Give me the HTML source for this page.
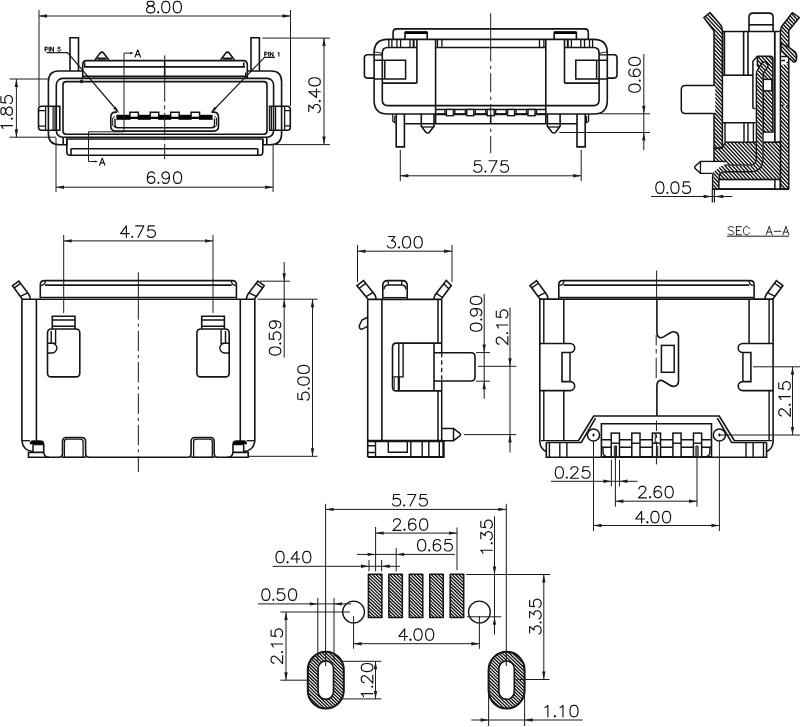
<!DOCTYPE html>
<html><head><meta charset="utf-8"><title>Drawing</title>
<style>html,body{margin:0;padding:0;background:#fff;font-family:"Liberation Sans",sans-serif;}svg{display:block;}</style>
</head><body>
<svg width="800" height="727" viewBox="0 0 800 727">
<defs>
<path id="hl3" d="M514.13 5.00 L691.31 195.00 M517.82 5.00 L695.00 195.00 M521.51 5.00 L698.69 195.00 M525.21 5.00 L702.38 195.00 M528.90 5.00 L706.08 195.00 M532.59 5.00 L709.77 195.00 M536.28 5.00 L713.46 195.00 M539.97 5.00 L717.15 195.00 M543.66 5.00 L720.84 195.00 M547.36 5.00 L724.53 195.00 M551.05 5.00 L728.23 195.00 M554.74 5.00 L731.92 195.00 M558.43 5.00 L735.61 195.00 M562.12 5.00 L739.30 195.00 M565.82 5.00 L742.99 195.00 M569.51 5.00 L746.68 195.00 M573.20 5.00 L750.38 195.00 M576.89 5.00 L754.07 195.00 M580.58 5.00 L757.76 195.00 M584.27 5.00 L761.45 195.00 M587.97 5.00 L765.14 195.00 M591.66 5.00 L768.84 195.00 M595.35 5.00 L772.53 195.00 M599.04 5.00 L776.22 195.00 M602.73 5.00 L779.91 195.00 M606.42 5.00 L783.60 195.00 M610.12 5.00 L787.29 195.00 M613.81 5.00 L790.99 195.00 M617.50 5.00 L794.68 195.00 M621.19 5.00 L798.37 195.00 M624.88 5.00 L802.06 195.00 M628.58 5.00 L805.75 195.00 M632.27 5.00 L809.45 195.00 M635.96 5.00 L813.14 195.00 M639.65 5.00 L816.83 195.00 M643.34 5.00 L820.52 195.00 M647.03 5.00 L824.21 195.00 M650.73 5.00 L827.90 195.00 M654.42 5.00 L831.60 195.00 M658.11 5.00 L835.29 195.00 M661.80 5.00 L838.98 195.00 M665.49 5.00 L842.67 195.00 M669.19 5.00 L846.36 195.00 M672.88 5.00 L850.05 195.00 M676.57 5.00 L853.75 195.00 M680.26 5.00 L857.44 195.00 M683.95 5.00 L861.13 195.00 M687.64 5.00 L864.82 195.00 M691.34 5.00 L868.51 195.00 M695.03 5.00 L872.21 195.00 M698.72 5.00 L875.90 195.00 M702.41 5.00 L879.59 195.00 M706.10 5.00 L883.28 195.00 M709.79 5.00 L886.97 195.00 M713.49 5.00 L890.66 195.00 M717.18 5.00 L894.36 195.00 M720.87 5.00 L898.05 195.00 M724.56 5.00 L901.74 195.00 M728.25 5.00 L905.43 195.00 M731.95 5.00 L909.12 195.00 M735.64 5.00 L912.82 195.00 M739.33 5.00 L916.51 195.00 M743.02 5.00 L920.20 195.00 M746.71 5.00 L923.89 195.00 M750.40 5.00 L927.58 195.00 M754.10 5.00 L931.27 195.00 M757.79 5.00 L934.97 195.00 M761.48 5.00 L938.66 195.00 M765.17 5.00 L942.35 195.00 M768.86 5.00 L946.04 195.00 M772.56 5.00 L949.73 195.00 M776.25 5.00 L953.42 195.00 M779.94 5.00 L957.12 195.00 M783.63 5.00 L960.81 195.00 M787.32 5.00 L964.50 195.00 M791.01 5.00 L968.19 195.00 M794.71 5.00 L971.88 195.00 M798.40 5.00 L975.58 195.00 M802.09 5.00 L979.27 195.00" fill="none" stroke="#141414" stroke-width="1.4"/>
<path id="hl3b" d="M515.93 5.00 L693.11 195.00 M519.62 5.00 L696.80 195.00 M523.31 5.00 L700.49 195.00 M527.01 5.00 L704.18 195.00 M530.70 5.00 L707.88 195.00 M534.39 5.00 L711.57 195.00 M538.08 5.00 L715.26 195.00 M541.77 5.00 L718.95 195.00 M545.46 5.00 L722.64 195.00 M549.16 5.00 L726.33 195.00 M552.85 5.00 L730.03 195.00 M556.54 5.00 L733.72 195.00 M560.23 5.00 L737.41 195.00 M563.92 5.00 L741.10 195.00 M567.62 5.00 L744.79 195.00 M571.31 5.00 L748.48 195.00 M575.00 5.00 L752.18 195.00 M578.69 5.00 L755.87 195.00 M582.38 5.00 L759.56 195.00 M586.07 5.00 L763.25 195.00 M589.77 5.00 L766.94 195.00 M593.46 5.00 L770.64 195.00 M597.15 5.00 L774.33 195.00 M600.84 5.00 L778.02 195.00 M604.53 5.00 L781.71 195.00 M608.22 5.00 L785.40 195.00 M611.92 5.00 L789.09 195.00 M615.61 5.00 L792.79 195.00 M619.30 5.00 L796.48 195.00 M622.99 5.00 L800.17 195.00 M626.68 5.00 L803.86 195.00 M630.38 5.00 L807.55 195.00 M634.07 5.00 L811.25 195.00 M637.76 5.00 L814.94 195.00 M641.45 5.00 L818.63 195.00 M645.14 5.00 L822.32 195.00 M648.83 5.00 L826.01 195.00 M652.53 5.00 L829.70 195.00 M656.22 5.00 L833.40 195.00 M659.91 5.00 L837.09 195.00 M663.60 5.00 L840.78 195.00 M667.29 5.00 L844.47 195.00 M670.99 5.00 L848.16 195.00 M674.68 5.00 L851.85 195.00 M678.37 5.00 L855.55 195.00 M682.06 5.00 L859.24 195.00 M685.75 5.00 L862.93 195.00 M689.44 5.00 L866.62 195.00 M693.14 5.00 L870.31 195.00 M696.83 5.00 L874.01 195.00 M700.52 5.00 L877.70 195.00 M704.21 5.00 L881.39 195.00 M707.90 5.00 L885.08 195.00 M711.59 5.00 L888.77 195.00 M715.29 5.00 L892.46 195.00 M718.98 5.00 L896.16 195.00 M722.67 5.00 L899.85 195.00 M726.36 5.00 L903.54 195.00 M730.05 5.00 L907.23 195.00 M733.75 5.00 L910.92 195.00 M737.44 5.00 L914.62 195.00 M741.13 5.00 L918.31 195.00 M744.82 5.00 L922.00 195.00 M748.51 5.00 L925.69 195.00 M752.20 5.00 L929.38 195.00 M755.90 5.00 L933.07 195.00 M759.59 5.00 L936.77 195.00 M763.28 5.00 L940.46 195.00 M766.97 5.00 L944.15 195.00 M770.66 5.00 L947.84 195.00 M774.36 5.00 L951.53 195.00 M778.05 5.00 L955.22 195.00 M781.74 5.00 L958.92 195.00 M785.43 5.00 L962.61 195.00 M789.12 5.00 L966.30 195.00 M792.81 5.00 L969.99 195.00 M796.51 5.00 L973.68 195.00 M800.20 5.00 L977.38 195.00" fill="none" stroke="#141414" stroke-width="1.4"/>
<clipPath id="c1"><path d="M703.8 17.5 L710 12.5 L720.8 25.2 Q722.4 27.5 722.4 30.5 L722.4 148.3 L714 148.3 L714 31 Z"/></clipPath>
<clipPath id="c2"><path d="M799.4 17.5 L792.3 12.7 L782 26 Q780.4 28.5 780.4 31 L780.4 189.1 L788.8 189.1 L788.8 30.5 Z"/></clipPath>
<clipPath id="c3"><path d="M781 43.5 L788.6 47.2 L794.4 51.3 Q797 53.4 796.7 57.6 L796.3 60 Q795.5 63 793.2 61.6 L781 50.8 Z"/></clipPath>
<clipPath id="c4"><path d="M757.4 56.3 L770.3 56.3 Q772.9 56.3 772.9 59 L772.9 132.2 L763 132.2 L763 70 L757.4 66 Z"/></clipPath>
<clipPath id="c5"><path d="M714 148.3 L721.8 148.3 L725.6 142.2 L780.4 142.2 L780.4 179.6 L716 179.6 L714 173 Z"/></clipPath>
<mask id="m6" maskUnits="userSpaceOnUse" x="680" y="0" width="120" height="200"><path d="M764.6 65.2 L760.4 71.5 Q759.7 72.5 759.7 74 L759.7 158.4 Q759.7 168.4 749.7 168.4 L724.5 168.4 Q715.9 168.4 715.9 177 L715.9 189" fill="none" stroke="#fff" stroke-width="5.20" stroke-linejoin="round"/><circle cx="764.60" cy="65.20" r="2.60" fill="#fff"/></mask>
<path id="hl7" d="M150.10 570.00 L297.15 712.00 M153.55 570.00 L300.60 712.00 M157.01 570.00 L304.05 712.00 M160.46 570.00 L307.51 712.00 M163.92 570.00 L310.96 712.00 M167.37 570.00 L314.42 712.00 M170.83 570.00 L317.87 712.00 M174.28 570.00 L321.33 712.00 M177.74 570.00 L324.78 712.00 M181.19 570.00 L328.24 712.00 M184.65 570.00 L331.69 712.00 M188.10 570.00 L335.15 712.00 M191.56 570.00 L338.60 712.00 M195.01 570.00 L342.06 712.00 M198.47 570.00 L345.51 712.00 M201.92 570.00 L348.97 712.00 M205.38 570.00 L352.42 712.00 M208.83 570.00 L355.88 712.00 M212.29 570.00 L359.33 712.00 M215.74 570.00 L362.79 712.00 M219.20 570.00 L366.24 712.00 M222.65 570.00 L369.70 712.00 M226.11 570.00 L373.15 712.00 M229.56 570.00 L376.61 712.00 M233.02 570.00 L380.06 712.00 M236.47 570.00 L383.52 712.00 M239.93 570.00 L386.97 712.00 M243.38 570.00 L390.43 712.00 M246.84 570.00 L393.88 712.00 M250.29 570.00 L397.34 712.00 M253.75 570.00 L400.79 712.00 M257.20 570.00 L404.25 712.00 M260.66 570.00 L407.70 712.00 M264.11 570.00 L411.16 712.00 M267.57 570.00 L414.61 712.00 M271.02 570.00 L418.07 712.00 M274.48 570.00 L421.52 712.00 M277.93 570.00 L424.98 712.00 M281.39 570.00 L428.43 712.00 M284.84 570.00 L431.89 712.00 M288.30 570.00 L435.34 712.00 M291.75 570.00 L438.80 712.00 M295.21 570.00 L442.25 712.00 M298.66 570.00 L445.71 712.00 M302.12 570.00 L449.16 712.00 M305.57 570.00 L452.62 712.00 M309.03 570.00 L456.07 712.00 M312.48 570.00 L459.53 712.00 M315.94 570.00 L462.98 712.00 M319.39 570.00 L466.44 712.00 M322.85 570.00 L469.89 712.00 M326.30 570.00 L473.35 712.00 M329.76 570.00 L476.80 712.00 M333.21 570.00 L480.26 712.00 M336.67 570.00 L483.71 712.00 M340.12 570.00 L487.17 712.00 M343.58 570.00 L490.62 712.00 M347.03 570.00 L494.08 712.00 M350.49 570.00 L497.53 712.00 M353.94 570.00 L500.99 712.00 M357.40 570.00 L504.44 712.00 M360.85 570.00 L507.90 712.00 M364.31 570.00 L511.35 712.00 M367.76 570.00 L514.81 712.00 M371.22 570.00 L518.26 712.00 M374.67 570.00 L521.72 712.00 M378.13 570.00 L525.17 712.00 M381.58 570.00 L528.63 712.00 M385.04 570.00 L532.08 712.00 M388.49 570.00 L535.54 712.00 M391.95 570.00 L538.99 712.00 M395.40 570.00 L542.45 712.00 M398.86 570.00 L545.90 712.00 M402.31 570.00 L549.36 712.00 M405.77 570.00 L552.81 712.00 M409.22 570.00 L556.27 712.00 M412.67 570.00 L559.72 712.00 M416.13 570.00 L563.18 712.00 M419.58 570.00 L566.63 712.00 M423.04 570.00 L570.08 712.00 M426.49 570.00 L573.54 712.00 M429.95 570.00 L576.99 712.00 M433.40 570.00 L580.45 712.00 M436.86 570.00 L583.90 712.00 M440.31 570.00 L587.36 712.00 M443.77 570.00 L590.81 712.00 M447.22 570.00 L594.27 712.00 M450.68 570.00 L597.72 712.00 M454.13 570.00 L601.18 712.00 M457.59 570.00 L604.63 712.00 M461.04 570.00 L608.09 712.00 M464.50 570.00 L611.54 712.00 M467.95 570.00 L615.00 712.00 M471.41 570.00 L618.45 712.00 M474.86 570.00 L621.91 712.00 M478.32 570.00 L625.36 712.00 M481.77 570.00 L628.82 712.00 M485.23 570.00 L632.27 712.00 M488.68 570.00 L635.73 712.00 M492.14 570.00 L639.18 712.00 M495.59 570.00 L642.64 712.00 M499.05 570.00 L646.09 712.00 M502.50 570.00 L649.55 712.00 M505.96 570.00 L653.00 712.00 M509.41 570.00 L656.46 712.00 M512.87 570.00 L659.91 712.00 M516.32 570.00 L663.37 712.00 M519.78 570.00 L666.82 712.00 M523.23 570.00 L670.28 712.00 M526.69 570.00 L673.73 712.00 M530.14 570.00 L677.19 712.00" fill="none" stroke="#141414" stroke-width="1.35"/>
<clipPath id="c7"><path d="M368.40 574.3 L381.90 574.3 L381.90 617.5 L368.40 617.5 Z"/></clipPath>
<clipPath id="c8"><path d="M388.85 574.3 L402.35 574.3 L402.35 617.5 L388.85 617.5 Z"/></clipPath>
<clipPath id="c9"><path d="M409.30 574.3 L422.80 574.3 L422.80 617.5 L409.30 617.5 Z"/></clipPath>
<clipPath id="c10"><path d="M429.75 574.3 L443.25 574.3 L443.25 617.5 L429.75 617.5 Z"/></clipPath>
<clipPath id="c11"><path d="M450.20 574.3 L463.70 574.3 L463.70 617.5 L450.20 617.5 Z"/></clipPath>
<clipPath id="c12"><path d="M307.80 669.8 A18 18 0 0 1 343.80 669.8 L343.80 690.5 A18 18 0 0 1 307.80 690.5 Z M318.10 668.7 A7.7 7.7 0 0 1 333.50 668.7 L333.50 691.7 A7.7 7.7 0 0 1 318.10 691.7 Z" clip-rule="evenodd"/></clipPath>
<clipPath id="c13"><path d="M488.60 669.8 A18 18 0 0 1 524.60 669.8 L524.60 690.5 A18 18 0 0 1 488.60 690.5 Z M498.90 668.7 A7.7 7.7 0 0 1 514.30 668.7 L514.30 691.7 A7.7 7.7 0 0 1 498.90 691.7 Z" clip-rule="evenodd"/></clipPath>
</defs>
<rect x="0" y="0" width="800" height="727" fill="#fff"/>
<path d="M70 71 L70 37.8 L78.5 37.8 L78.5 71" fill="none" stroke="#141414" stroke-width="1.60" />
<path d="M251 71 L251 37.8 L259.4 37.8 L259.4 71" fill="none" stroke="#141414" stroke-width="1.60" />
<path d="M82.7 71 L59 71 Q48.4 71 48.4 81.6 L48.4 133.8 Q48.4 144.8 59.4 144.8 L66.8 144.8 L66.8 139" fill="none" stroke="#141414" stroke-width="1.60" />
<path d="M247.3 71 L271 71 Q281.6 71 281.6 81.6 L281.6 133.8 Q281.6 144.8 270.6 144.8 L262.8 144.8 L262.8 139" fill="none" stroke="#141414" stroke-width="1.60" />
<rect x="56.30" y="78.40" width="217.30" height="58.90" rx="6.50" ry="6.50" fill="none" stroke="#141414" stroke-width="1.60"/>
<rect x="63.00" y="81.60" width="204.00" height="52.70" rx="3.20" ry="3.20" fill="none" stroke="#141414" stroke-width="1.60"/>
<path d="M63.20 137.30 L63.20 144.80" fill="none" stroke="#141414" stroke-width="1.60" />
<path d="M266.80 137.30 L266.80 144.80" fill="none" stroke="#141414" stroke-width="1.60" />
<circle cx="81.6" cy="81.3" r="1.3" fill="none" stroke="#141414" stroke-width="1.2"/>
<path d="M82.7 78.4 L82.7 64.6 Q82.7 60.6 86.7 60.6 L243.3 60.6 Q247.3 60.6 247.3 64.6 L247.3 78.4" fill="none" stroke="#141414" stroke-width="1.60" />
<path d="M84.6 62.5 L84.6 66.9 L245 66.9 M243.7 62.5 L243.7 66.9" fill="none" stroke="#141414" stroke-width="1.60" />
<path d="M82.70 76.40 L247.30 76.40" fill="none" stroke="#141414" stroke-width="1.60" />
<path d="M245.60 72.50 L245.60 78.40" fill="none" stroke="#141414" stroke-width="1.20" />
<path d="M95.0 60 L100.0 53.3 Q101.9 51 103.8 53.3 L108.8 60" fill="none" stroke="#141414" stroke-width="1.60" />
<path d="M97.30 58.60 L106.50 58.60" fill="none" stroke="#141414" stroke-width="2.20" />
<path d="M220.6 60 L225.6 53.3 Q227.5 51 229.4 53.3 L234.4 60" fill="none" stroke="#141414" stroke-width="1.60" />
<path d="M222.90 58.60 L232.10 58.60" fill="none" stroke="#141414" stroke-width="2.20" />
<path d="M59.8 106.2 L41.5 106.2 Q38.5 106.2 38.5 109.2 L38.5 127.3 Q38.5 130.3 41.5 130.3 L59.8 130.3 Z" fill="none" stroke="#141414" stroke-width="1.60" />
<path d="M38.5 110.6 L45.6 110.6 M38.5 126.2 L45.6 126.2 M45.6 106.2 L45.6 130.3" fill="none" stroke="#141414" stroke-width="1.30" />
<path d="M53.1 106.2 L53.1 130.3 M55 106.2 L55 130.3" fill="none" stroke="#141414" stroke-width="1.20" />
<path d="M269.6 106.2 L287.3 106.2 Q290.3 106.2 290.3 109.2 L290.3 127.3 Q290.3 130.3 287.3 130.3 L269.6 130.3 Z" fill="none" stroke="#141414" stroke-width="1.60" />
<path d="M290.3 110.6 L284.6 110.6 M290.3 125.8 L284.6 125.8 M284.6 106.2 L284.6 130.3" fill="none" stroke="#141414" stroke-width="1.30" />
<path d="M271.5 106.2 L271.5 130.3 M275.6 106.2 L275.6 130.3" fill="none" stroke="#141414" stroke-width="1.20" />
<path d="M66.8 139 L262.8 139 L262.8 152 Q262.8 155.3 259.5 155.3 L70.1 155.3 Q66.8 155.3 66.8 152 Z" fill="none" stroke="#141414" stroke-width="1.60" />
<path d="M71 148.8 L257.8 148.8 M71 148.8 L71 155.3 M257.8 148.8 L257.8 155.3" fill="none" stroke="#141414" stroke-width="1.60" />
<path d="M117 112.1 L115.8 112.1 Q110.8 112.1 110.8 117.1 L110.8 126.1 Q110.8 131.1 115.8 131.1 L213.5 131.1 Q218.5 131.1 218.5 126.1 L218.5 117.1 Q218.5 112.1 213.5 112.1 L212 112.1" fill="none" stroke="#141414" stroke-width="1.60" />
<path d="M115 118.5 L115 124.8 Q115 127.8 118 127.8 L211.5 127.8 Q214.5 127.8 214.5 124.8 L214.5 118.5" fill="none" stroke="#141414" stroke-width="1.40" />
<path d="M112.7 118 L112.7 125.5 M216.6 118 L216.6 125.5 M112.7 125.5 L116 128 M216.6 125.5 L213.5 128 M112.7 118 L115 116 M216.6 118 L214.5 116" fill="none" stroke="#141414" stroke-width="1.00" />
<rect x="117" y="116.7" width="95" height="2.3" fill="#000"/>
<rect x="116.40" y="114.8" width="14.05" height="5.0" fill="#000"/>
<rect x="137.75" y="114.8" width="13.10" height="5.0" fill="#000"/>
<rect x="158.15" y="114.8" width="13.10" height="5.0" fill="#000"/>
<rect x="178.55" y="114.8" width="13.10" height="5.0" fill="#000"/>
<rect x="198.95" y="114.8" width="13.65" height="5.0" fill="#000"/>
<path d="M129.85 115.5 L129.85 112.3 L138.35 112.3 L138.35 115.5" fill="none" stroke="#141414" stroke-width="1.50" />
<path d="M150.25 115.5 L150.25 112.3 L158.75 112.3 L158.75 115.5" fill="none" stroke="#141414" stroke-width="1.50" />
<path d="M170.65 115.5 L170.65 112.3 L179.15 112.3 L179.15 115.5" fill="none" stroke="#141414" stroke-width="1.50" />
<path d="M191.05 115.5 L191.05 112.3 L199.55 112.3 L199.55 115.5" fill="none" stroke="#141414" stroke-width="1.50" />
<path d="M164.70 60.60 L164.70 78.40" fill="none" stroke="#141414" stroke-width="1.60" />
<path d="M164.7 55.3 L164.7 60.6 M164.7 78.5 L164.7 101.7 M164.7 105.2 L164.7 109.5 M164.7 112.9 L164.7 134.4 M164.7 137.8 L164.7 140.4 M164.7 143.8 L164.7 159.3" fill="none" stroke="#1c1c1c" stroke-width="1.00" />
<path transform="translate(45.20 51.40) rotate(0.0)" d="M0.00 -4.20 L0.00 -0.20 M0.00 -4.20 L1.71 -4.20 L2.29 -4.01 L2.48 -3.82 L2.67 -3.44 L2.67 -2.87 L2.48 -2.49 L2.29 -2.30 L1.71 -2.10 L0.00 -2.10 M4.00 -4.20 L4.00 -0.20 M5.52 -4.20 L5.52 -0.20 M5.52 -4.20 L8.19 -0.20 M8.19 -4.20 L8.19 -0.20 M14.86 -4.20 L12.95 -4.20 L12.76 -2.49 L12.95 -2.68 L13.52 -2.87 L14.10 -2.87 L14.67 -2.68 L15.05 -2.30 L15.24 -1.72 L15.24 -1.34 L15.05 -0.77 L14.67 -0.39 L14.10 -0.20 L13.52 -0.20 L12.95 -0.39 L12.76 -0.58 L12.57 -0.96" fill="none" stroke="#000" stroke-width="1.00" stroke-linecap="round" stroke-linejoin="round"/>
<path d="M46.5 52.7 L67.5 52.7 L117.5 111" fill="none" stroke="#1c1c1c" stroke-width="1.20" />
<path d="M119.60 113.60 L113.26 108.49 L115.55 106.54 Z" fill="#1c1c1c" stroke="none"/>
<path transform="translate(264.80 56.40) rotate(0.0)" d="M0.00 -4.20 L0.00 -0.20 M0.00 -4.20 L1.71 -4.20 L2.29 -4.01 L2.48 -3.82 L2.67 -3.44 L2.67 -2.87 L2.48 -2.49 L2.29 -2.30 L1.71 -2.10 L0.00 -2.10 M4.00 -4.20 L4.00 -0.20 M5.52 -4.20 L5.52 -0.20 M5.52 -4.20 L8.19 -0.20 M8.19 -4.20 L8.19 -0.20 M13.14 -3.44 L13.52 -3.63 L14.10 -4.20 L14.10 -0.20" fill="none" stroke="#000" stroke-width="1.00" stroke-linecap="round" stroke-linejoin="round"/>
<path d="M275 57.4 L264.5 57.4 L212.2 111.5" fill="none" stroke="#1c1c1c" stroke-width="1.20" />
<path d="M210.30 113.60 L214.54 106.65 L216.77 108.66 Z" fill="#1c1c1c" stroke="none"/>
<path d="M132.5 53.1 L124 53.1 L124 131.8 L88.5 131.8 L88.5 161.5 L97 161.5" fill="none" stroke="#1c1c1c" stroke-width="1.00" />
<path d="M133.50 53.10 L130.00 54.10 L130.00 52.10 Z" fill="#1c1c1c" stroke="none"/>
<path d="M98.00 161.50 L94.50 162.50 L94.50 160.50 Z" fill="#1c1c1c" stroke="none"/>
<path transform="translate(135.00 57.20) rotate(0.0)" d="M2.74 -7.40 L0.00 -0.20 M2.74 -7.40 L5.49 -0.20 M1.03 -2.60 L4.46 -2.60" fill="none" stroke="#111" stroke-width="1.10" stroke-linecap="round" stroke-linejoin="round"/>
<path transform="translate(99.50 165.50) rotate(0.0)" d="M2.74 -7.40 L0.00 -0.20 M2.74 -7.40 L5.49 -0.20 M1.03 -2.60 L4.46 -2.60" fill="none" stroke="#111" stroke-width="1.10" stroke-linecap="round" stroke-linejoin="round"/>
<path d="M39.00 10.00 L39.00 106.00" fill="none" stroke="#1c1c1c" stroke-width="1.00" />
<path d="M290.50 10.00 L290.50 106.00" fill="none" stroke="#1c1c1c" stroke-width="1.00" />
<path d="M39.00 16.00 L290.50 16.00" fill="none" stroke="#1c1c1c" stroke-width="1.00" />
<path d="M39.00 16.00 L47.00 14.30 L47.00 17.70 Z" fill="#1c1c1c" stroke="none"/>
<path d="M290.50 16.00 L282.50 17.70 L282.50 14.30 Z" fill="#1c1c1c" stroke="none"/>
<path transform="translate(164.00 13.00) rotate(0.0)" d="M-14.51 -11.70 L-16.25 -11.15 L-16.83 -10.06 L-16.83 -8.96 L-16.25 -7.87 L-15.09 -7.32 L-12.77 -6.77 L-11.03 -6.22 L-9.87 -5.13 L-9.29 -4.03 L-9.29 -2.39 L-9.87 -1.30 L-10.45 -0.75 L-12.19 -0.20 L-14.51 -0.20 L-16.25 -0.75 L-16.83 -1.30 L-17.41 -2.39 L-17.41 -4.03 L-16.83 -5.13 L-15.67 -6.22 L-13.93 -6.77 L-11.61 -7.32 L-10.45 -7.87 L-9.87 -8.96 L-9.87 -10.06 L-10.45 -11.15 L-12.19 -11.70 L-14.51 -11.70 M-5.80 -1.30 L-6.39 -0.75 L-5.80 -0.20 L-5.22 -0.75 L-5.80 -1.30 M1.16 -11.70 L-0.58 -11.15 L-1.74 -9.51 L-2.32 -6.77 L-2.32 -5.13 L-1.74 -2.39 L-0.58 -0.75 L1.16 -0.20 L2.32 -0.20 L4.06 -0.75 L5.22 -2.39 L5.80 -5.13 L5.80 -6.77 L5.22 -9.51 L4.06 -11.15 L2.32 -11.70 L1.16 -11.70 M12.77 -11.70 L11.03 -11.15 L9.87 -9.51 L9.29 -6.77 L9.29 -5.13 L9.87 -2.39 L11.03 -0.75 L12.77 -0.20 L13.93 -0.20 L15.67 -0.75 L16.83 -2.39 L17.41 -5.13 L17.41 -6.77 L16.83 -9.51 L15.67 -11.15 L13.93 -11.70 L12.77 -11.70" fill="none" stroke="#111" stroke-width="1.15" stroke-linecap="round" stroke-linejoin="round"/>
<path d="M262.30 38.10 L330.00 38.10" fill="none" stroke="#1c1c1c" stroke-width="1.00" />
<path d="M273.00 144.60 L330.00 144.60" fill="none" stroke="#1c1c1c" stroke-width="1.00" />
<path d="M324.00 38.10 L324.00 144.60" fill="none" stroke="#1c1c1c" stroke-width="1.00" />
<path d="M324.00 38.10 L325.70 46.10 L322.30 46.10 Z" fill="#1c1c1c" stroke="none"/>
<path d="M324.00 144.60 L322.30 136.60 L325.70 136.60 Z" fill="#1c1c1c" stroke="none"/>
<path transform="translate(320.50 95.20) rotate(-90.0)" d="M-16.25 -11.70 L-9.87 -11.70 L-13.35 -7.32 L-11.61 -7.32 L-10.45 -6.77 L-9.87 -6.22 L-9.29 -4.58 L-9.29 -3.49 L-9.87 -1.84 L-11.03 -0.75 L-12.77 -0.20 L-14.51 -0.20 L-16.25 -0.75 L-16.83 -1.30 L-17.41 -2.39 M-5.80 -1.30 L-6.39 -0.75 L-5.80 -0.20 L-5.22 -0.75 L-5.80 -1.30 M3.48 -11.70 L-2.32 -4.03 L6.39 -4.03 M3.48 -11.70 L3.48 -0.20 M12.77 -11.70 L11.03 -11.15 L9.87 -9.51 L9.29 -6.77 L9.29 -5.13 L9.87 -2.39 L11.03 -0.75 L12.77 -0.20 L13.93 -0.20 L15.67 -0.75 L16.83 -2.39 L17.41 -5.13 L17.41 -6.77 L16.83 -9.51 L15.67 -11.15 L13.93 -11.70 L12.77 -11.70" fill="none" stroke="#111" stroke-width="1.15" stroke-linecap="round" stroke-linejoin="round"/>
<path d="M9.50 79.00 L48.00 79.00" fill="none" stroke="#1c1c1c" stroke-width="1.00" />
<path d="M9.50 137.20 L56.00 137.20" fill="none" stroke="#1c1c1c" stroke-width="1.00" />
<path d="M16.40 79.00 L16.40 137.20" fill="none" stroke="#1c1c1c" stroke-width="1.00" />
<path d="M16.40 79.00 L18.10 87.00 L14.70 87.00 Z" fill="#1c1c1c" stroke="none"/>
<path d="M16.40 137.20 L14.70 129.20 L18.10 129.20 Z" fill="#1c1c1c" stroke="none"/>
<path transform="translate(12.60 112.00) rotate(-90.0)" d="M-16.54 -9.51 L-15.38 -10.06 L-13.64 -11.70 L-13.64 -0.20 M-6.68 -1.30 L-7.26 -0.75 L-6.68 -0.20 L-6.10 -0.75 L-6.68 -1.30 M-0.29 -11.70 L-2.03 -11.15 L-2.61 -10.06 L-2.61 -8.96 L-2.03 -7.87 L-0.87 -7.32 L1.45 -6.77 L3.19 -6.22 L4.35 -5.13 L4.93 -4.03 L4.93 -2.39 L4.35 -1.30 L3.77 -0.75 L2.03 -0.20 L-0.29 -0.20 L-2.03 -0.75 L-2.61 -1.30 L-3.19 -2.39 L-3.19 -4.03 L-2.61 -5.13 L-1.45 -6.22 L0.29 -6.77 L2.61 -7.32 L3.77 -7.87 L4.35 -8.96 L4.35 -10.06 L3.77 -11.15 L2.03 -11.70 L-0.29 -11.70 M15.38 -11.70 L9.58 -11.70 L9.00 -6.77 L9.58 -7.32 L11.32 -7.87 L13.06 -7.87 L14.80 -7.32 L15.96 -6.22 L16.54 -4.58 L16.54 -3.49 L15.96 -1.84 L14.80 -0.75 L13.06 -0.20 L11.32 -0.20 L9.58 -0.75 L9.00 -1.30 L8.42 -2.39" fill="none" stroke="#111" stroke-width="1.15" stroke-linecap="round" stroke-linejoin="round"/>
<path d="M56.00 138.00 L56.00 192.00" fill="none" stroke="#1c1c1c" stroke-width="1.00" />
<path d="M273.10 145.00 L273.10 192.00" fill="none" stroke="#1c1c1c" stroke-width="1.00" />
<path d="M56.00 187.20 L273.10 187.20" fill="none" stroke="#1c1c1c" stroke-width="1.00" />
<path d="M56.00 187.20 L64.00 185.50 L64.00 188.90 Z" fill="#1c1c1c" stroke="none"/>
<path d="M273.10 187.20 L265.10 188.90 L265.10 185.50 Z" fill="#1c1c1c" stroke="none"/>
<path transform="translate(164.50 183.60) rotate(0.0)" d="M-10.16 -10.06 L-10.74 -11.15 L-12.48 -11.70 L-13.64 -11.70 L-15.38 -11.15 L-16.54 -9.51 L-17.12 -6.77 L-17.12 -4.03 L-16.54 -1.84 L-15.38 -0.75 L-13.64 -0.20 L-13.06 -0.20 L-11.32 -0.75 L-10.16 -1.84 L-9.58 -3.49 L-9.58 -4.03 L-10.16 -5.68 L-11.32 -6.77 L-13.06 -7.32 L-13.64 -7.32 L-15.38 -6.77 L-16.54 -5.68 L-17.12 -4.03 M-6.10 -1.30 L-6.68 -0.75 L-6.10 -0.20 L-5.51 -0.75 L-6.10 -1.30 M4.93 -7.87 L4.35 -6.22 L3.19 -5.13 L1.45 -4.58 L0.87 -4.58 L-0.87 -5.13 L-2.03 -6.22 L-2.61 -7.87 L-2.61 -8.41 L-2.03 -10.06 L-0.87 -11.15 L0.87 -11.70 L1.45 -11.70 L3.19 -11.15 L4.35 -10.06 L4.93 -7.87 L4.93 -5.13 L4.35 -2.39 L3.19 -0.75 L1.45 -0.20 L0.29 -0.20 L-1.45 -0.75 L-2.03 -1.84 M12.48 -11.70 L10.74 -11.15 L9.58 -9.51 L9.00 -6.77 L9.00 -5.13 L9.58 -2.39 L10.74 -0.75 L12.48 -0.20 L13.64 -0.20 L15.38 -0.75 L16.54 -2.39 L17.12 -5.13 L17.12 -6.77 L16.54 -9.51 L15.38 -11.15 L13.64 -11.70 L12.48 -11.70" fill="none" stroke="#111" stroke-width="1.15" stroke-linecap="round" stroke-linejoin="round"/>
<path d="M393.1 39.4 L393.1 32.4 Q393.1 28.9 396.6 28.9 L584.8 28.9 Q588.3 28.9 588.3 32.4 L588.3 39.4" fill="none" stroke="#141414" stroke-width="1.60" />
<path d="M405.0 39.4 L405.0 32.6 L427.2 32.6 L427.2 39.4" fill="none" stroke="#141414" stroke-width="1.60" />
<rect x="405.0" y="31.2" width="22.2" height="2.8" fill="#000"/>
<path d="M554.2 39.4 L554.2 32.6 L576.4 32.6 L576.4 39.4" fill="none" stroke="#141414" stroke-width="1.60" />
<rect x="554.2" y="31.2" width="22.2" height="2.8" fill="#000"/>
<path d="M387.6 39.4 Q374.1 39.4 374.1 53 L374.1 100.5 Q374.1 114 387.6 114 L593.8 114 Q607.3 114 607.3 100.5 L607.3 53 Q607.3 39.4 593.8 39.4 Z" fill="none" stroke="#141414" stroke-width="1.60" />
<path d="M416.9 47.5 L387.8 47.5 Q382.3 47.5 382.3 53 L382.3 100 Q382.3 105.6 387.8 105.6 L593.6 105.6 Q599.1 105.6 599.1 100 L599.1 53 Q599.1 47.5 593.6 47.5 L564.5 47.5" fill="none" stroke="#141414" stroke-width="1.60" />
<path d="M435.60 47.50 L545.80 47.50" fill="none" stroke="#141414" stroke-width="1.60" />
<path d="M416.90 39.40 L416.90 83.10" fill="none" stroke="#141414" stroke-width="1.60" />
<path d="M564.50 39.40 L564.50 83.10" fill="none" stroke="#141414" stroke-width="1.60" />
<path d="M382.30 83.10 L416.90 83.10" fill="none" stroke="#141414" stroke-width="1.60" />
<path d="M564.50 83.10 L599.10 83.10" fill="none" stroke="#141414" stroke-width="1.60" />
<path d="M435.60 39.40 L435.60 123.70" fill="none" stroke="#141414" stroke-width="1.60" />
<path d="M545.80 39.40 L545.80 123.70" fill="none" stroke="#141414" stroke-width="1.60" />
<path d="M388.80 39.40 L388.80 47.50" fill="none" stroke="#141414" stroke-width="1.30" />
<path d="M592.60 39.40 L592.60 47.50" fill="none" stroke="#141414" stroke-width="1.30" />
<path d="M391.90 39.40 L391.90 47.50" fill="none" stroke="#141414" stroke-width="1.30" />
<path d="M589.50 39.40 L589.50 47.50" fill="none" stroke="#141414" stroke-width="1.30" />
<path d="M396.90 39.40 L396.90 47.50" fill="none" stroke="#141414" stroke-width="1.30" />
<path d="M584.50 39.40 L584.50 47.50" fill="none" stroke="#141414" stroke-width="1.30" />
<path d="M400.60 39.40 L400.60 47.50" fill="none" stroke="#141414" stroke-width="1.30" />
<path d="M580.80 39.40 L580.80 47.50" fill="none" stroke="#141414" stroke-width="1.30" />
<path d="M410.00 39.40 L410.00 47.50" fill="none" stroke="#141414" stroke-width="1.30" />
<path d="M571.40 39.40 L571.40 47.50" fill="none" stroke="#141414" stroke-width="1.30" />
<path d="M437.50 39.40 L437.50 47.50" fill="none" stroke="#141414" stroke-width="1.30" />
<path d="M543.90 39.40 L543.90 47.50" fill="none" stroke="#141414" stroke-width="1.30" />
<path d="M441.90 39.40 L441.90 47.50" fill="none" stroke="#141414" stroke-width="1.30" />
<path d="M539.50 39.40 L539.50 47.50" fill="none" stroke="#141414" stroke-width="1.30" />
<path d="M413.60 39.40 L413.60 47.50" fill="none" stroke="#141414" stroke-width="2.00" />
<path d="M567.80 39.40 L567.80 47.50" fill="none" stroke="#141414" stroke-width="2.00" />
<path d="M374.1 54.8 L367.4 54.8 Q364.4 54.8 364.4 57.8 L364.4 75.1 Q364.4 78.1 367.4 78.1 L374.1 78.1" fill="none" stroke="#141414" stroke-width="1.60" />
<path d="M607.3 54.8 L614.0 54.8 Q617.0 54.8 617.0 57.8 L617.0 75.1 Q617.0 78.1 614.0 78.1 L607.3 78.1" fill="none" stroke="#141414" stroke-width="1.60" />
<path d="M374.1 60.3 L405.6 60.3 L405.6 79 L374.1 79 M384.8 60.3 L384.8 79" fill="none" stroke="#141414" stroke-width="1.50" />
<path d="M374.1 54.8 L382.3 54.8 M374.4 52 Q379.0 52 382.0 53.5" fill="none" stroke="#141414" stroke-width="1.20" />
<path d="M607.3 60.3 L575.8 60.3 L575.8 79 L607.3 79 M596.6 60.3 L596.6 79" fill="none" stroke="#141414" stroke-width="1.50" />
<path d="M607.3 54.8 L599.1 54.8 M607.0 52 Q602.4 52 599.4 53.5" fill="none" stroke="#141414" stroke-width="1.20" />
<path d="M435.60 109.50 L545.80 109.50" fill="none" stroke="#141414" stroke-width="1.60" />
<path d="M435.60 114.30 L545.80 114.30" fill="none" stroke="#141414" stroke-width="1.90" />
<rect x="446.40" y="109.5" width="7" height="6.2" fill="#fff" stroke="#141414" stroke-width="1.4"/>
<path d="M444.90 109.5 L444.90 114.2 M454.90 109.5 L454.90 114.2" fill="none" stroke="#141414" stroke-width="1.30" />
<rect x="466.80" y="109.5" width="7" height="6.2" fill="#fff" stroke="#141414" stroke-width="1.4"/>
<path d="M465.30 109.5 L465.30 114.2 M475.30 109.5 L475.30 114.2" fill="none" stroke="#141414" stroke-width="1.30" />
<rect x="487.20" y="109.5" width="7" height="6.2" fill="#fff" stroke="#141414" stroke-width="1.4"/>
<path d="M485.70 109.5 L485.70 114.2 M495.70 109.5 L495.70 114.2" fill="none" stroke="#141414" stroke-width="1.30" />
<rect x="507.60" y="109.5" width="7" height="6.2" fill="#fff" stroke="#141414" stroke-width="1.4"/>
<path d="M506.10 109.5 L506.10 114.2 M516.10 109.5 L516.10 114.2" fill="none" stroke="#141414" stroke-width="1.30" />
<rect x="528.00" y="109.5" width="7" height="6.2" fill="#fff" stroke="#141414" stroke-width="1.4"/>
<path d="M526.50 109.5 L526.50 114.2 M536.50 109.5 L536.50 114.2" fill="none" stroke="#141414" stroke-width="1.30" />
<path d="M404.40 123.70 L577.00 123.70" fill="none" stroke="#141414" stroke-width="1.60" />
<path d="M490.70 114.20 L490.70 123.70" fill="none" stroke="#141414" stroke-width="1.60" />
<path d="M396.2 114 L396.2 146.9 L404.4 146.9 L404.4 114" fill="none" stroke="#141414" stroke-width="1.60" />
<path d="M392.8 114 L392.8 121.5 L396.2 123.5 M394.8 116 L394.8 122" fill="none" stroke="#141414" stroke-width="1.20" />
<path d="M421.3 114 L421.3 126.3 L425.6 132 Q427.6 134 429.6 132 L434.0 126.3 L434.0 114" fill="none" stroke="#141414" stroke-width="1.60" />
<path d="M422.00 127.00 L433.40 127.00" fill="none" stroke="#141414" stroke-width="1.30" />
<path d="M585.2 114 L585.2 146.9 L577.0 146.9 L577.0 114" fill="none" stroke="#141414" stroke-width="1.60" />
<path d="M588.6 114 L588.6 121.5 L585.2 123.5 M586.6 116 L586.6 122" fill="none" stroke="#141414" stroke-width="1.20" />
<path d="M560.1 114 L560.1 126.3 L555.8 132 Q553.8 134 551.8 132 L547.4 126.3 L547.4 114" fill="none" stroke="#141414" stroke-width="1.60" />
<path d="M559.40 127.00 L548.00 127.00" fill="none" stroke="#141414" stroke-width="1.30" />
<path d="M490.7 13.5 L490.7 61.5 M490.7 65.8 L490.7 69 M490.7 73.2 L490.7 92.4 M490.7 96.7 L490.7 99.9 M490.7 104 L490.7 114 M490.7 128.7 L490.7 131.9 M490.7 136.1 L490.7 153.2" fill="none" stroke="#1c1c1c" stroke-width="1.00" />
<path d="M600.00 113.80 L650.00 113.80" fill="none" stroke="#1c1c1c" stroke-width="1.00" />
<path d="M559.40 132.50 L650.00 132.50" fill="none" stroke="#1c1c1c" stroke-width="1.00" />
<path d="M643.80 54.00 L643.80 150.00" fill="none" stroke="#1c1c1c" stroke-width="1.00" />
<path d="M643.80 113.80 L642.10 105.80 L645.50 105.80 Z" fill="#1c1c1c" stroke="none"/>
<path d="M643.80 132.50 L645.50 140.50 L642.10 140.50 Z" fill="#1c1c1c" stroke="none"/>
<path transform="translate(640.50 74.80) rotate(-90.0)" d="M-13.93 -11.70 L-15.67 -11.15 L-16.83 -9.51 L-17.41 -6.77 L-17.41 -5.13 L-16.83 -2.39 L-15.67 -0.75 L-13.93 -0.20 L-12.77 -0.20 L-11.03 -0.75 L-9.87 -2.39 L-9.29 -5.13 L-9.29 -6.77 L-9.87 -9.51 L-11.03 -11.15 L-12.77 -11.70 L-13.93 -11.70 M-5.80 -1.30 L-6.39 -0.75 L-5.80 -0.20 L-5.22 -0.75 L-5.80 -1.30 M5.22 -10.06 L4.64 -11.15 L2.90 -11.70 L1.74 -11.70 L0.00 -11.15 L-1.16 -9.51 L-1.74 -6.77 L-1.74 -4.03 L-1.16 -1.84 L0.00 -0.75 L1.74 -0.20 L2.32 -0.20 L4.06 -0.75 L5.22 -1.84 L5.80 -3.49 L5.80 -4.03 L5.22 -5.68 L4.06 -6.77 L2.32 -7.32 L1.74 -7.32 L0.00 -6.77 L-1.16 -5.68 L-1.74 -4.03 M12.77 -11.70 L11.03 -11.15 L9.87 -9.51 L9.29 -6.77 L9.29 -5.13 L9.87 -2.39 L11.03 -0.75 L12.77 -0.20 L13.93 -0.20 L15.67 -0.75 L16.83 -2.39 L17.41 -5.13 L17.41 -6.77 L16.83 -9.51 L15.67 -11.15 L13.93 -11.70 L12.77 -11.70" fill="none" stroke="#111" stroke-width="1.15" stroke-linecap="round" stroke-linejoin="round"/>
<path d="M400.30 150.00 L400.30 181.00" fill="none" stroke="#1c1c1c" stroke-width="1.00" />
<path d="M581.20 150.00 L581.20 181.00" fill="none" stroke="#1c1c1c" stroke-width="1.00" />
<path d="M400.30 175.80 L581.20 175.80" fill="none" stroke="#1c1c1c" stroke-width="1.00" />
<path d="M400.30 175.80 L408.30 174.10 L408.30 177.50 Z" fill="#1c1c1c" stroke="none"/>
<path d="M581.20 175.80 L573.20 177.50 L573.20 174.10 Z" fill="#1c1c1c" stroke="none"/>
<path transform="translate(491.20 172.40) rotate(0.0)" d="M-10.45 -11.70 L-16.25 -11.70 L-16.83 -6.77 L-16.25 -7.32 L-14.51 -7.87 L-12.77 -7.87 L-11.03 -7.32 L-9.87 -6.22 L-9.29 -4.58 L-9.29 -3.49 L-9.87 -1.84 L-11.03 -0.75 L-12.77 -0.20 L-14.51 -0.20 L-16.25 -0.75 L-16.83 -1.30 L-17.41 -2.39 M-5.80 -1.30 L-6.39 -0.75 L-5.80 -0.20 L-5.22 -0.75 L-5.80 -1.30 M5.80 -11.70 L0.00 -0.20 M-2.32 -11.70 L5.80 -11.70 M16.25 -11.70 L10.45 -11.70 L9.87 -6.77 L10.45 -7.32 L12.19 -7.87 L13.93 -7.87 L15.67 -7.32 L16.83 -6.22 L17.41 -4.58 L17.41 -3.49 L16.83 -1.84 L15.67 -0.75 L13.93 -0.20 L12.19 -0.20 L10.45 -0.75 L9.87 -1.30 L9.29 -2.39" fill="none" stroke="#111" stroke-width="1.15" stroke-linecap="round" stroke-linejoin="round"/>
<path d="M703.8 17.5 L710 12.5 L720.8 25.2 Q722.4 27.5 722.4 30.5 L722.4 148.3 L714 148.3 L714 31 Z" fill="#fff" stroke="none"/>
<use href="#hl3" clip-path="url(#c1)"/>
<path d="M703.8 17.5 L710 12.5 L720.8 25.2 Q722.4 27.5 722.4 30.5 L722.4 148.3 L714 148.3 L714 31 Z" fill="none" stroke="#141414" stroke-width="1.50" stroke-linejoin="round"/>
<path d="M799.4 17.5 L792.3 12.7 L782 26 Q780.4 28.5 780.4 31 L780.4 189.1 L788.8 189.1 L788.8 30.5 Z" fill="#fff" stroke="none"/>
<use href="#hl3" clip-path="url(#c2)"/>
<path d="M799.4 17.5 L792.3 12.7 L782 26 Q780.4 28.5 780.4 31 L780.4 189.1 L788.8 189.1 L788.8 30.5 Z" fill="none" stroke="#141414" stroke-width="1.50" stroke-linejoin="round"/>
<rect x="781.2" y="52" width="6.8" height="12.5" fill="#fff"/>
<path d="M781.2 56.5 L788.3 56.5 M781.2 60.5 L785 60.5 M786.5 62.5 L788.3 62.5" fill="none" stroke="#141414" stroke-width="1.60" />
<path d="M781 43.5 L788.6 47.2 L794.4 51.3 Q797 53.4 796.7 57.6 L796.3 60 Q795.5 63 793.2 61.6 L781 50.8 Z" fill="#fff" stroke="none"/>
<use href="#hl3" clip-path="url(#c3)"/>
<path d="M781 43.5 L788.6 47.2 L794.4 51.3 Q797 53.4 796.7 57.6 L796.3 60 Q795.5 63 793.2 61.6 L781 50.8 Z" fill="none" stroke="#141414" stroke-width="1.50" stroke-linejoin="round"/>
<path d="M722.40 31.50 L780.40 31.50" fill="none" stroke="#141414" stroke-width="1.60" />
<path d="M749 31.5 L749 17.1 Q749 13.1 753 13.1 L769.1 13.1 Q773.1 13.1 773.1 17.1 L773.1 31.5" fill="none" stroke="#141414" stroke-width="1.60" />
<path d="M749.00 24.80 L773.10 24.80" fill="none" stroke="#141414" stroke-width="1.60" />
<path d="M724.30 31.50 L724.30 75.20" fill="none" stroke="#141414" stroke-width="1.80" />
<path d="M743.60 31.50 L743.60 75.20" fill="none" stroke="#141414" stroke-width="1.60" />
<path d="M748.00 31.50 L748.00 75.20" fill="none" stroke="#141414" stroke-width="1.60" />
<path d="M722.40 75.20 L752.90 75.20" fill="none" stroke="#141414" stroke-width="1.60" />
<path d="M757.4 56.3 L770.3 56.3 Q772.9 56.3 772.9 59 L772.9 132.2 L763 132.2 L763 70 L757.4 66 Z" fill="#fff" stroke="none"/>
<use href="#hl3" clip-path="url(#c4)"/>
<path d="M757.4 56.3 L770.3 56.3 Q772.9 56.3 772.9 59 L772.9 132.2 L763 132.2 L763 70 L757.4 66 Z" fill="none" stroke="#141414" stroke-width="1.50" stroke-linejoin="round"/>
<rect x="763.2" y="79.4" width="8.6" height="11.4" fill="#fff" stroke="#141414" stroke-width="1.4"/>
<path d="M752.9 108.5 L752.9 61.2 L757.4 56.3" fill="none" stroke="#141414" stroke-width="1.50" />
<path d="M752.90 108.50 L755.60 108.50" fill="none" stroke="#141414" stroke-width="1.30" />
<path d="M774.80 31.50 L774.80 142.20" fill="none" stroke="#141414" stroke-width="1.80" />
<path d="M772.90 132.20 L772.90 142.20" fill="none" stroke="#141414" stroke-width="1.30" />
<path d="M722.40 122.70 L755.60 122.70" fill="none" stroke="#141414" stroke-width="1.60" />
<path d="M725 122.7 L725 142.2 M744 122.7 L744 142.2 M748 122.7 L748 142.2 M753.4 122.7 L753.4 142.2" fill="none" stroke="#141414" stroke-width="1.40" />
<path d="M714 148.3 L721.8 148.3 L725.6 142.2 L780.4 142.2 L780.4 179.6 L716 179.6 L714 173 Z" fill="#fff" stroke="none"/>
<use href="#hl3" clip-path="url(#c5)"/>
<path d="M714 148.3 L721.8 148.3 L725.6 142.2 L780.4 142.2 L780.4 179.6 L716 179.6 L714 173 Z" fill="none" stroke="#141414" stroke-width="1.50" stroke-linejoin="round"/>
<rect x="763" y="132.8" width="11" height="9.4" fill="#fff"/>
<path d="M762.20 142.20 L780.40 142.20" fill="none" stroke="#141414" stroke-width="1.60" />
<rect x="706" y="161.4" width="20.6" height="6" fill="#fff"/>
<circle cx="764.60" cy="65.20" r="4.00" fill="#000"/>
<path d="M764.6 65.2 L760.4 71.5 Q759.7 72.5 759.7 74 L759.7 158.4 Q759.7 168.4 749.7 168.4 L724.5 168.4 Q715.9 168.4 715.9 177 L715.9 189" fill="none" stroke="#141414" stroke-width="8.00" stroke-linejoin="round"/>
<path d="M764.6 65.2 L760.4 71.5 Q759.7 72.5 759.7 74 L759.7 158.4 Q759.7 168.4 749.7 168.4 L724.5 168.4 Q715.9 168.4 715.9 177 L715.9 189" fill="none" stroke="#fff" stroke-width="5.20" stroke-linejoin="round"/>
<circle cx="764.60" cy="65.20" r="2.60" fill="#fff"/>
<use href="#hl3b" mask="url(#m6)"/>
<path d="M726.6 161.4 L700.5 161.4 L695.4 166 Q693.8 167.3 695.4 168.7 L700.5 173.3 L712 173.3" fill="#fff" stroke="#141414" stroke-width="1.50" />
<path d="M700.50 161.40 L700.50 173.30" fill="none" stroke="#141414" stroke-width="1.40" />
<rect x="701.5" y="162.3" width="11" height="10.2" fill="#fff"/>
<rect x="713" y="162.3" width="11" height="3.6" fill="#fff"/>
<rect x="718.9" y="179.6" width="56" height="9.5" fill="#fff" stroke="#141414" stroke-width="1.5"/>
<path d="M711.90 189.10 L788.80 189.10" fill="none" stroke="#141414" stroke-width="1.80" />
<path d="M780.40 179.60 L780.40 189.10" fill="none" stroke="#141414" stroke-width="1.60" />
<path d="M714 85.5 L685.3 85.5 Q681.3 85.5 681.3 89.5 L681.3 109.5 Q681.3 113.5 685.3 113.5 L714 113.5" fill="#fff" stroke="#141414" stroke-width="1.50" />
<rect x="712.6" y="86.3" width="2.6" height="26.4" fill="#fff"/>
<rect x="782.5" y="103.8" width="5" height="2.6" fill="#fff"/>
<path d="M782 105.4 L785 104.6 M786 106.3 L788.5 105.2" fill="none" stroke="#141414" stroke-width="1.30" />
<path d="M651.00 196.50 L732.40 196.50" fill="none" stroke="#1c1c1c" stroke-width="1.00" />
<path d="M711.60 196.50 L703.60 198.20 L703.60 194.80 Z" fill="#1c1c1c" stroke="none"/>
<path d="M715.20 196.50 L723.20 194.80 L723.20 198.20 Z" fill="#1c1c1c" stroke="none"/>
<path d="M712.30 190.00 L712.30 202.60" fill="none" stroke="#1c1c1c" stroke-width="1.20" />
<path d="M714.40 190.00 L714.40 202.60" fill="none" stroke="#1c1c1c" stroke-width="1.20" />
<path transform="translate(673.20 193.60) rotate(0.0)" d="M-13.93 -11.70 L-15.67 -11.15 L-16.83 -9.51 L-17.41 -6.77 L-17.41 -5.13 L-16.83 -2.39 L-15.67 -0.75 L-13.93 -0.20 L-12.77 -0.20 L-11.03 -0.75 L-9.87 -2.39 L-9.29 -5.13 L-9.29 -6.77 L-9.87 -9.51 L-11.03 -11.15 L-12.77 -11.70 L-13.93 -11.70 M-5.80 -1.30 L-6.39 -0.75 L-5.80 -0.20 L-5.22 -0.75 L-5.80 -1.30 M1.16 -11.70 L-0.58 -11.15 L-1.74 -9.51 L-2.32 -6.77 L-2.32 -5.13 L-1.74 -2.39 L-0.58 -0.75 L1.16 -0.20 L2.32 -0.20 L4.06 -0.75 L5.22 -2.39 L5.80 -5.13 L5.80 -6.77 L5.22 -9.51 L4.06 -11.15 L2.32 -11.70 L1.16 -11.70 M16.25 -11.70 L10.45 -11.70 L9.87 -6.77 L10.45 -7.32 L12.19 -7.87 L13.93 -7.87 L15.67 -7.32 L16.83 -6.22 L17.41 -4.58 L17.41 -3.49 L16.83 -1.84 L15.67 -0.75 L13.93 -0.20 L12.19 -0.20 L10.45 -0.75 L9.87 -1.30 L9.29 -2.39" fill="none" stroke="#111" stroke-width="1.15" stroke-linecap="round" stroke-linejoin="round"/>
<path transform="translate(728.20 235.00) rotate(0.0)" d="M5.47 -7.23 L4.69 -8.01 L3.51 -8.40 L1.95 -8.40 L0.78 -8.01 L0.00 -7.23 L0.00 -6.45 L0.39 -5.67 L0.78 -5.28 L1.56 -4.89 L3.90 -4.10 L4.69 -3.71 L5.08 -3.32 L5.47 -2.54 L5.47 -1.37 L4.69 -0.59 L3.51 -0.20 L1.95 -0.20 L0.78 -0.59 L0.00 -1.37 M8.20 -8.40 L8.20 -0.20 M8.20 -8.40 L13.28 -8.40 M8.20 -4.50 L11.32 -4.50 M8.20 -0.20 L13.28 -0.20 M21.09 -6.45 L20.70 -7.23 L19.91 -8.01 L19.13 -8.40 L17.57 -8.40 L16.79 -8.01 L16.01 -7.23 L15.62 -6.45 L15.23 -5.28 L15.23 -3.32 L15.62 -2.15 L16.01 -1.37 L16.79 -0.59 L17.57 -0.20 L19.13 -0.20 L19.91 -0.59 L20.70 -1.37 L21.09 -2.15" fill="none" stroke="#111" stroke-width="0.90" stroke-linecap="round" stroke-linejoin="round"/>
<path transform="translate(766.20 235.00) rotate(0.0)" d="M3.03 -8.40 L0.00 -0.20 M3.03 -8.40 L6.06 -0.20 M1.14 -2.93 L4.92 -2.93 M7.95 -3.71 L14.77 -3.71 M19.70 -8.40 L16.67 -0.20 M19.70 -8.40 L22.73 -0.20 M17.80 -2.93 L21.59 -2.93" fill="none" stroke="#111" stroke-width="0.90" stroke-linecap="round" stroke-linejoin="round"/>
<path d="M727.00 236.20 L789.00 236.20" fill="none" stroke="#1c1c1c" stroke-width="1.00" />
<path d="M40.3 298.8 L40.3 284.6 Q40.3 280.6 44.3 280.6 L232.4 280.6 Q236.4 280.6 236.4 284.6 L236.4 298.8" fill="none" stroke="#141414" stroke-width="1.60" />
<path d="M40.6 285.5 Q45 285.2 45.5 280.9 M236.1 285.5 Q231.7 285.2 231.2 280.9" fill="none" stroke="#141414" stroke-width="1.20" />
<path d="M45.00 285.10 L231.70 285.10" fill="none" stroke="#141414" stroke-width="1.60" />
<path d="M41.00 297.40 L235.70 297.40" fill="none" stroke="#141414" stroke-width="1.30" />
<path d="M21.90 299.20 L254.80 299.20" fill="none" stroke="#141414" stroke-width="1.60" />
<path d="M21.9 299.2 L21.9 441 Q23.0 450.5 33.0 451.6" fill="none" stroke="#141414" stroke-width="1.60" />
<path d="M36.40 299.20 L36.40 441.00" fill="none" stroke="#141414" stroke-width="1.60" />
<path d="M21.90 440.70 L30.00 440.70" fill="none" stroke="#141414" stroke-width="1.30" />
<path d="M30.3 444.2 L30.6 442.6 Q31.0 441 32.5 441 L40.0 441 Q43.7 441 43.7 444.2" fill="#000" stroke="#141414" stroke-width="1.50" />
<path d="M33.0 444.4 L33.0 452 M33.0 444.4 L43.7 444.4" fill="none" stroke="#141414" stroke-width="1.50" />
<path d="M43.7 444 L43.7 452 Q44.2 457.2 48.5 457.2" fill="none" stroke="#141414" stroke-width="1.60" />
<path d="M44.0 452.4 L28.5 452.4 L28.5 457.2 L49.0 457.2" fill="none" stroke="#141414" stroke-width="1.60" />
<path d="M48.0 457.2 L59.0 457.2 Q62.5 457.2 62.5 453.5 L62.5 441.5 Q62.5 437.5 66.5 437.5 L81.6 437.5 Q85.6 437.5 85.6 441.5 L85.6 453.5 Q85.6 457.2 89.2 457.2" fill="none" stroke="#141414" stroke-width="1.60" />
<path d="M64.4 457 L64.4 442 Q64.4 439.2 67.2 439.2 L80.3 439.2 Q83.1 439.2 83.1 442 L83.1 457" fill="none" stroke="#141414" stroke-width="1.30" />
<path d="M62.00 457.20 L86.00 457.20" fill="none" stroke="#141414" stroke-width="1.60" />
<path d="M22.2 299 L12.5 285.6 L18.8 281 L28.6 294 Q30.0 296 30.2 299" fill="none" stroke="#141414" stroke-width="1.60" />
<path d="M14.2 287.9 L20.6 283.4 M20.5 296.4 L27.6 292.8" fill="none" stroke="#141414" stroke-width="1.40" />
<path d="M52.3 329 L52.3 316.3 L75.0 316.3 L75.0 329" fill="none" stroke="#141414" stroke-width="1.60" />
<path d="M52.3 320 L75.0 320 M52.3 326.3 L75.0 326.3" fill="none" stroke="#141414" stroke-width="1.40" />
<path d="M75.8 329 L51.5 329 Q47.5 329 47.5 333 L47.5 372.9 Q47.5 376.9 51.5 376.9 L75.8 376.9 Q79.8 376.9 79.8 372.9 L79.8 333 Q79.8 329 75.8 329 Z" fill="none" stroke="#141414" stroke-width="1.60" />
<path d="M51.2 331 L51.2 343 M55.6 329.5 L55.6 343.2 L47.5 343.2 M47.5 343.2 L52.0 343.2 A4.9 4.9 0 0 1 52.0 353 L47.5 353" fill="none" stroke="#141414" stroke-width="1.40" />
<path d="M254.8 299.2 L254.8 441 Q253.7 450.5 243.7 451.6" fill="none" stroke="#141414" stroke-width="1.60" />
<path d="M240.30 299.20 L240.30 441.00" fill="none" stroke="#141414" stroke-width="1.60" />
<path d="M254.80 440.70 L246.70 440.70" fill="none" stroke="#141414" stroke-width="1.30" />
<path d="M246.4 444.2 L246.1 442.6 Q245.7 441 244.2 441 L236.7 441 Q233.0 441 233.0 444.2" fill="#000" stroke="#141414" stroke-width="1.50" />
<path d="M243.7 444.4 L243.7 452 M243.7 444.4 L233.0 444.4" fill="none" stroke="#141414" stroke-width="1.50" />
<path d="M233.0 444 L233.0 452 Q232.5 457.2 228.2 457.2" fill="none" stroke="#141414" stroke-width="1.60" />
<path d="M232.7 452.4 L248.2 452.4 L248.2 457.2 L227.7 457.2" fill="none" stroke="#141414" stroke-width="1.60" />
<path d="M228.7 457.2 L217.7 457.2 Q214.2 457.2 214.2 453.5 L214.2 441.5 Q214.2 437.5 210.2 437.5 L195.1 437.5 Q191.1 437.5 191.1 441.5 L191.1 453.5 Q191.1 457.2 187.5 457.2" fill="none" stroke="#141414" stroke-width="1.60" />
<path d="M212.3 457 L212.3 442 Q212.3 439.2 209.5 439.2 L196.4 439.2 Q193.6 439.2 193.6 442 L193.6 457" fill="none" stroke="#141414" stroke-width="1.30" />
<path d="M214.70 457.20 L190.70 457.20" fill="none" stroke="#141414" stroke-width="1.60" />
<path d="M254.5 299 L264.2 285.6 L257.9 281 L248.1 294 Q246.7 296 246.5 299" fill="none" stroke="#141414" stroke-width="1.60" />
<path d="M262.5 287.9 L256.1 283.4 M256.2 296.4 L249.1 292.8" fill="none" stroke="#141414" stroke-width="1.40" />
<path d="M224.4 329 L224.4 316.3 L201.7 316.3 L201.7 329" fill="none" stroke="#141414" stroke-width="1.60" />
<path d="M224.4 320 L201.7 320 M224.4 326.3 L201.7 326.3" fill="none" stroke="#141414" stroke-width="1.40" />
<path d="M200.9 329 L225.2 329 Q229.2 329 229.2 333 L229.2 372.9 Q229.2 376.9 225.2 376.9 L200.9 376.9 Q196.9 376.9 196.9 372.9 L196.9 333 Q196.9 329 200.9 329 Z" fill="none" stroke="#141414" stroke-width="1.60" />
<path d="M225.5 331 L225.5 343 M221.1 329.5 L221.1 343.2 L229.2 343.2 M229.2 343.2 L224.7 343.2 A4.9 4.9 0 0 0 224.7 353 L229.2 353" fill="none" stroke="#141414" stroke-width="1.40" />
<path d="M89.00 457.20 L187.70 457.20" fill="none" stroke="#141414" stroke-width="1.60" />
<path d="M138.35 272.40 L138.35 299.20" fill="none" stroke="#1c1c1c" stroke-width="1.00" />
<path d="M138.35 299.20 L138.35 472.00" fill="none" stroke="#1c1c1c" stroke-width="1.00" stroke-dasharray="20.5 4 3 3.9" stroke-dashoffset="0"/>
<path d="M63.70 235.00 L63.70 313.00" fill="none" stroke="#1c1c1c" stroke-width="1.00" />
<path d="M213.00 235.00 L213.00 313.00" fill="none" stroke="#1c1c1c" stroke-width="1.00" />
<path d="M63.70 240.90 L213.00 240.90" fill="none" stroke="#1c1c1c" stroke-width="1.00" />
<path d="M63.70 240.90 L71.70 239.20 L71.70 242.60 Z" fill="#1c1c1c" stroke="none"/>
<path d="M213.00 240.90 L205.00 242.60 L205.00 239.20 Z" fill="#1c1c1c" stroke="none"/>
<path transform="translate(138.00 237.60) rotate(0.0)" d="M-11.61 -11.70 L-17.41 -4.03 L-8.71 -4.03 M-11.61 -11.70 L-11.61 -0.20 M-5.80 -1.30 L-6.39 -0.75 L-5.80 -0.20 L-5.22 -0.75 L-5.80 -1.30 M5.80 -11.70 L0.00 -0.20 M-2.32 -11.70 L5.80 -11.70 M16.25 -11.70 L10.45 -11.70 L9.87 -6.77 L10.45 -7.32 L12.19 -7.87 L13.93 -7.87 L15.67 -7.32 L16.83 -6.22 L17.41 -4.58 L17.41 -3.49 L16.83 -1.84 L15.67 -0.75 L13.93 -0.20 L12.19 -0.20 L10.45 -0.75 L9.87 -1.30 L9.29 -2.39" fill="none" stroke="#111" stroke-width="1.15" stroke-linecap="round" stroke-linejoin="round"/>
<path d="M260.00 281.20 L290.00 281.20" fill="none" stroke="#1c1c1c" stroke-width="1.00" />
<path d="M257.50 299.20 L317.50 299.20" fill="none" stroke="#1c1c1c" stroke-width="1.00" />
<path d="M284.20 262.00 L284.20 357.50" fill="none" stroke="#1c1c1c" stroke-width="1.00" />
<path d="M284.20 281.20 L282.50 273.20 L285.90 273.20 Z" fill="#1c1c1c" stroke="none"/>
<path d="M284.20 299.20 L285.90 307.20 L282.50 307.20 Z" fill="#1c1c1c" stroke="none"/>
<path transform="translate(281.00 338.00) rotate(-90.0)" d="M-13.64 -11.70 L-15.38 -11.15 L-16.54 -9.51 L-17.12 -6.77 L-17.12 -5.13 L-16.54 -2.39 L-15.38 -0.75 L-13.64 -0.20 L-12.48 -0.20 L-10.74 -0.75 L-9.58 -2.39 L-9.00 -5.13 L-9.00 -6.77 L-9.58 -9.51 L-10.74 -11.15 L-12.48 -11.70 L-13.64 -11.70 M-5.51 -1.30 L-6.10 -0.75 L-5.51 -0.20 L-4.93 -0.75 L-5.51 -1.30 M4.93 -11.70 L-0.87 -11.70 L-1.45 -6.77 L-0.87 -7.32 L0.87 -7.87 L2.61 -7.87 L4.35 -7.32 L5.51 -6.22 L6.10 -4.58 L6.10 -3.49 L5.51 -1.84 L4.35 -0.75 L2.61 -0.20 L0.87 -0.20 L-0.87 -0.75 L-1.45 -1.30 L-2.03 -2.39 M17.12 -7.87 L16.54 -6.22 L15.38 -5.13 L13.64 -4.58 L13.06 -4.58 L11.32 -5.13 L10.16 -6.22 L9.58 -7.87 L9.58 -8.41 L10.16 -10.06 L11.32 -11.15 L13.06 -11.70 L13.64 -11.70 L15.38 -11.15 L16.54 -10.06 L17.12 -7.87 L17.12 -5.13 L16.54 -2.39 L15.38 -0.75 L13.64 -0.20 L12.48 -0.20 L10.74 -0.75 L10.16 -1.84" fill="none" stroke="#111" stroke-width="1.15" stroke-linecap="round" stroke-linejoin="round"/>
<path d="M248.80 456.30 L317.50 456.30" fill="none" stroke="#1c1c1c" stroke-width="1.00" />
<path d="M312.50 299.20 L312.50 456.30" fill="none" stroke="#1c1c1c" stroke-width="1.00" />
<path d="M312.50 299.20 L314.20 307.20 L310.80 307.20 Z" fill="#1c1c1c" stroke="none"/>
<path d="M312.50 456.30 L310.80 448.30 L314.20 448.30 Z" fill="#1c1c1c" stroke="none"/>
<path transform="translate(309.50 382.80) rotate(-90.0)" d="M-10.45 -11.70 L-16.25 -11.70 L-16.83 -6.77 L-16.25 -7.32 L-14.51 -7.87 L-12.77 -7.87 L-11.03 -7.32 L-9.87 -6.22 L-9.29 -4.58 L-9.29 -3.49 L-9.87 -1.84 L-11.03 -0.75 L-12.77 -0.20 L-14.51 -0.20 L-16.25 -0.75 L-16.83 -1.30 L-17.41 -2.39 M-5.80 -1.30 L-6.39 -0.75 L-5.80 -0.20 L-5.22 -0.75 L-5.80 -1.30 M1.16 -11.70 L-0.58 -11.15 L-1.74 -9.51 L-2.32 -6.77 L-2.32 -5.13 L-1.74 -2.39 L-0.58 -0.75 L1.16 -0.20 L2.32 -0.20 L4.06 -0.75 L5.22 -2.39 L5.80 -5.13 L5.80 -6.77 L5.22 -9.51 L4.06 -11.15 L2.32 -11.70 L1.16 -11.70 M12.77 -11.70 L11.03 -11.15 L9.87 -9.51 L9.29 -6.77 L9.29 -5.13 L9.87 -2.39 L11.03 -0.75 L12.77 -0.20 L13.93 -0.20 L15.67 -0.75 L16.83 -2.39 L17.41 -5.13 L17.41 -6.77 L16.83 -9.51 L15.67 -11.15 L13.93 -11.70 L12.77 -11.70" fill="none" stroke="#111" stroke-width="1.15" stroke-linecap="round" stroke-linejoin="round"/>
<path d="M367.70 299.40 L442.20 299.40" fill="none" stroke="#141414" stroke-width="1.60" />
<path d="M367.70 299.40 L367.70 457.00" fill="none" stroke="#141414" stroke-width="1.60" />
<path d="M381.90 299.40 L381.90 440.80" fill="none" stroke="#141414" stroke-width="1.60" />
<path d="M438 299.4 L438 343.1 M441.7 299.4 L441.7 352.8 M441.7 381 L441.7 441 M438 390.9 L438 441" fill="none" stroke="#141414" stroke-width="1.50" />
<path d="M441.70 352.80 L441.70 381.00" fill="none" stroke="#141414" stroke-width="1.30" stroke-dasharray="4.5 3"/>
<path d="M382.8 299.4 L382.8 285.6 Q382.8 280.6 387.8 280.6 L402.2 280.6 Q407.2 280.6 407.2 285.6 L407.2 299.4" fill="none" stroke="#141414" stroke-width="1.60" />
<path d="M384 289.5 Q384.3 285 388.5 285 L401.5 285 Q405.7 285 406 289.5 M388.5 285 L388 281 M401.5 285 L402 281" fill="none" stroke="#141414" stroke-width="1.30" />
<path d="M383.50 297.60 L406.50 297.60" fill="none" stroke="#141414" stroke-width="1.30" />
<path d="M367.9 299 L356.9 285.6 L363.5 280.6 L374.6 294.5 Q376 296.5 376.2 299.2" fill="none" stroke="#141414" stroke-width="1.60" />
<path d="M359.2 288.3 L365.7 283.4 M366.2 296.6 L373 292.4" fill="none" stroke="#141414" stroke-width="1.40" />
<path d="M433.8 299.2 Q434 296.5 435.4 294.5 L446.3 280.5 L451.3 285.5 L441.5 298.8" fill="none" stroke="#141414" stroke-width="1.60" />
<path d="M443.7 283.8 L448.8 288.8 M436.3 293.3 L442.5 297.5" fill="none" stroke="#141414" stroke-width="1.40" />
<path d="M367.7 317.3 L362 320 L359.5 325.3 Q358.8 329 361.6 329.3 L367.7 326.3" fill="none" stroke="#141414" stroke-width="1.50" />
<path d="M441.7 343.1 L396.5 343.1 Q392.5 343.1 392.5 347.1 L392.5 386.9 Q392.5 390.9 396.5 390.9 L441.7 390.9" fill="none" stroke="#141414" stroke-width="1.60" />
<path d="M434.00 343.10 L434.00 390.90" fill="none" stroke="#141414" stroke-width="1.60" />
<path d="M398.8 344 L398.8 376.9 M403.1 343.1 L403.1 376.9 L392.5 376.9" fill="none" stroke="#141414" stroke-width="1.40" />
<path d="M398.80 376.90 L398.80 390.90" fill="none" stroke="#141414" stroke-width="2.20" />
<path d="M394.20 378.00 L394.20 389.50" fill="none" stroke="#141414" stroke-width="1.00" />
<path d="M434 352.8 L471 352.8 Q475 352.8 475 356.8 L475 377 Q475 381 471 381 L434 381" fill="none" stroke="#141414" stroke-width="1.60" />
<path d="M367.70 441.00 L442.50 441.00" fill="none" stroke="#141414" stroke-width="2.40" />
<path d="M367.70 457.00 L444.30 457.00" fill="none" stroke="#141414" stroke-width="1.80" />
<path d="M443.50 440.00 L443.50 457.50" fill="none" stroke="#141414" stroke-width="2.40" />
<path d="M367.7 445.8 L375.5 445.8 M367.7 452.5 L375.5 452.5 M375.5 441 L375.5 457" fill="none" stroke="#141414" stroke-width="1.40" />
<path d="M388.3 441 L388.3 452.2 L407.3 452.2 L407.3 441" fill="none" stroke="#141414" stroke-width="1.40" />
<path d="M410.8 441 L410.8 457 M422.2 441 L422.2 457 M428.8 441 L428.8 457 M439.3 441 L439.3 457" fill="none" stroke="#141414" stroke-width="1.40" />
<path d="M441.7 428.5 L453.5 428.5 L459.6 433.2 Q461.6 434.6 459.6 436.1 L453.5 440.7 L441.7 440.7 M453.5 428.5 L453.5 440.7" fill="none" stroke="#141414" stroke-width="1.50" />
<path d="M357.50 245.00 L357.50 282.00" fill="none" stroke="#1c1c1c" stroke-width="1.00" />
<path d="M452.00 245.00 L452.00 282.00" fill="none" stroke="#1c1c1c" stroke-width="1.00" />
<path d="M357.50 251.20 L452.00 251.20" fill="none" stroke="#1c1c1c" stroke-width="1.00" />
<path d="M357.50 251.20 L365.50 249.50 L365.50 252.90 Z" fill="#1c1c1c" stroke="none"/>
<path d="M452.00 251.20 L444.00 252.90 L444.00 249.50 Z" fill="#1c1c1c" stroke="none"/>
<path transform="translate(404.80 248.20) rotate(0.0)" d="M-16.25 -11.70 L-9.87 -11.70 L-13.35 -7.32 L-11.61 -7.32 L-10.45 -6.77 L-9.87 -6.22 L-9.29 -4.58 L-9.29 -3.49 L-9.87 -1.84 L-11.03 -0.75 L-12.77 -0.20 L-14.51 -0.20 L-16.25 -0.75 L-16.83 -1.30 L-17.41 -2.39 M-5.80 -1.30 L-6.39 -0.75 L-5.80 -0.20 L-5.22 -0.75 L-5.80 -1.30 M1.16 -11.70 L-0.58 -11.15 L-1.74 -9.51 L-2.32 -6.77 L-2.32 -5.13 L-1.74 -2.39 L-0.58 -0.75 L1.16 -0.20 L2.32 -0.20 L4.06 -0.75 L5.22 -2.39 L5.80 -5.13 L5.80 -6.77 L5.22 -9.51 L4.06 -11.15 L2.32 -11.70 L1.16 -11.70 M12.77 -11.70 L11.03 -11.15 L9.87 -9.51 L9.29 -6.77 L9.29 -5.13 L9.87 -2.39 L11.03 -0.75 L12.77 -0.20 L13.93 -0.20 L15.67 -0.75 L16.83 -2.39 L17.41 -5.13 L17.41 -6.77 L16.83 -9.51 L15.67 -11.15 L13.93 -11.70 L12.77 -11.70" fill="none" stroke="#111" stroke-width="1.15" stroke-linecap="round" stroke-linejoin="round"/>
<path d="M484.20 293.80 L484.20 398.80" fill="none" stroke="#1c1c1c" stroke-width="1.00" />
<path d="M476.00 352.60 L490.00 352.60" fill="none" stroke="#1c1c1c" stroke-width="1.00" />
<path d="M476.00 381.20 L490.00 381.20" fill="none" stroke="#1c1c1c" stroke-width="1.00" />
<path d="M484.20 352.60 L482.50 344.60 L485.90 344.60 Z" fill="#1c1c1c" stroke="none"/>
<path d="M484.20 381.20 L485.90 389.20 L482.50 389.20 Z" fill="#1c1c1c" stroke="none"/>
<path transform="translate(482.00 313.80) rotate(-90.0)" d="M-13.93 -11.70 L-15.67 -11.15 L-16.83 -9.51 L-17.41 -6.77 L-17.41 -5.13 L-16.83 -2.39 L-15.67 -0.75 L-13.93 -0.20 L-12.77 -0.20 L-11.03 -0.75 L-9.87 -2.39 L-9.29 -5.13 L-9.29 -6.77 L-9.87 -9.51 L-11.03 -11.15 L-12.77 -11.70 L-13.93 -11.70 M-5.80 -1.30 L-6.39 -0.75 L-5.80 -0.20 L-5.22 -0.75 L-5.80 -1.30 M5.22 -7.87 L4.64 -6.22 L3.48 -5.13 L1.74 -4.58 L1.16 -4.58 L-0.58 -5.13 L-1.74 -6.22 L-2.32 -7.87 L-2.32 -8.41 L-1.74 -10.06 L-0.58 -11.15 L1.16 -11.70 L1.74 -11.70 L3.48 -11.15 L4.64 -10.06 L5.22 -7.87 L5.22 -5.13 L4.64 -2.39 L3.48 -0.75 L1.74 -0.20 L0.58 -0.20 L-1.16 -0.75 L-1.74 -1.84 M12.77 -11.70 L11.03 -11.15 L9.87 -9.51 L9.29 -6.77 L9.29 -5.13 L9.87 -2.39 L11.03 -0.75 L12.77 -0.20 L13.93 -0.20 L15.67 -0.75 L16.83 -2.39 L17.41 -5.13 L17.41 -6.77 L16.83 -9.51 L15.67 -11.15 L13.93 -11.70 L12.77 -11.70" fill="none" stroke="#111" stroke-width="1.15" stroke-linecap="round" stroke-linejoin="round"/>
<path d="M510.00 307.50 L510.00 452.50" fill="none" stroke="#1c1c1c" stroke-width="1.00" />
<path d="M478.00 366.30 L516.30 366.30" fill="none" stroke="#1c1c1c" stroke-width="1.00" />
<path d="M463.80 434.60 L516.30 434.60" fill="none" stroke="#1c1c1c" stroke-width="1.00" />
<path d="M510.00 366.30 L508.30 358.30 L511.70 358.30 Z" fill="#1c1c1c" stroke="none"/>
<path d="M510.00 434.60 L511.70 442.60 L508.30 442.60 Z" fill="#1c1c1c" stroke="none"/>
<path transform="translate(508.00 327.30) rotate(-90.0)" d="M-16.83 -8.96 L-16.83 -9.51 L-16.25 -10.60 L-15.67 -11.15 L-14.51 -11.70 L-12.19 -11.70 L-11.03 -11.15 L-10.45 -10.60 L-9.87 -9.51 L-9.87 -8.41 L-10.45 -7.32 L-11.61 -5.68 L-17.41 -0.20 L-9.29 -0.20 M-5.80 -1.30 L-6.39 -0.75 L-5.80 -0.20 L-5.22 -0.75 L-5.80 -1.30 M-0.58 -9.51 L0.58 -10.06 L2.32 -11.70 L2.32 -0.20 M16.25 -11.70 L10.45 -11.70 L9.87 -6.77 L10.45 -7.32 L12.19 -7.87 L13.93 -7.87 L15.67 -7.32 L16.83 -6.22 L17.41 -4.58 L17.41 -3.49 L16.83 -1.84 L15.67 -0.75 L13.93 -0.20 L12.19 -0.20 L10.45 -0.75 L9.87 -1.30 L9.29 -2.39" fill="none" stroke="#111" stroke-width="1.15" stroke-linecap="round" stroke-linejoin="round"/>
<path d="M558.8 298.8 L558.8 284.6 Q558.8 280.6 562.8 280.6 L750.1 280.6 Q754.1 280.6 754.1 284.6 L754.1 298.8" fill="none" stroke="#141414" stroke-width="1.60" />
<path d="M559.1 285.5 Q563.5 285.2 564 280.9 M753.8 285.5 Q749.4 285.2 748.9 280.9" fill="none" stroke="#141414" stroke-width="1.20" />
<path d="M563.50 285.10 L749.40 285.10" fill="none" stroke="#141414" stroke-width="1.60" />
<path d="M559.50 297.40 L753.40 297.40" fill="none" stroke="#141414" stroke-width="1.30" />
<path d="M539.80 299.10 L773.10 299.10" fill="none" stroke="#141414" stroke-width="1.60" />
<path d="M539.8 299.1 L539.8 442 Q540.3 449 546.3 451.5" fill="none" stroke="#141414" stroke-width="1.60" />
<path d="M543.8 299.1 L543.8 343.5 M543.8 390.6 L543.8 440.6" fill="none" stroke="#141414" stroke-width="1.40" />
<path d="M563.8 299.1 L563.8 343.5 M563.8 390.6 L563.8 440.6" fill="none" stroke="#141414" stroke-width="1.50" />
<path d="M540.0 299 L530.0 285.6 L536.5 280.6 L546.5 294.3 Q547.8 296.3 548.0 299" fill="none" stroke="#141414" stroke-width="1.60" />
<path d="M531.8 287.9 L538.4 283.2 M538.3 296.2 L545.2 292.6" fill="none" stroke="#141414" stroke-width="1.40" />
<path d="M539.8 343.5 L570.2 343.5 A4.5 4.5 0 0 1 570.2 352.5 L562.0 352.5 L562.0 381.6 L570.2 381.6 A4.5 4.5 0 0 1 570.2 390.6 L539.8 390.6" fill="none" stroke="#141414" stroke-width="1.60" />
<path d="M570.00 352.50 L570.00 381.60" fill="none" stroke="#141414" stroke-width="1.50" />
<path d="M541.00 440.70 L578.50 440.70" fill="none" stroke="#141414" stroke-width="1.20" />
<path d="M546.3 442.5 L581.3 442.5 L595.6 418.2 M578.3 441 L593.7 416 L656.5 416" fill="none" stroke="#141414" stroke-width="1.60" />
<path d="M546.3 442.5 L546.3 457.2 L601.5 457.2" fill="none" stroke="#141414" stroke-width="1.60" />
<path d="M549.4 442.5 L549.4 457.2 M559.8 442.5 L559.8 457.2 M566.9 442.5 L566.9 457.2" fill="none" stroke="#141414" stroke-width="1.40" />
<circle cx="593.5" cy="435" r="6.1" fill="none" stroke="#141414" stroke-width="1.5"/>
<path d="M592.1 435 L594.9 435 M593.5 433.6 L593.5 436.4" fill="none" stroke="#141414" stroke-width="1.20" />
<path d="M773.1 299.1 L773.1 442 Q772.6 449 766.6 451.5" fill="none" stroke="#141414" stroke-width="1.60" />
<path d="M769.1 299.1 L769.1 343.5 M769.1 390.6 L769.1 440.6" fill="none" stroke="#141414" stroke-width="1.40" />
<path d="M749.1 299.1 L749.1 343.5" fill="none" stroke="#141414" stroke-width="1.50" />
<path d="M772.9 299 L782.9 285.6 L776.4 280.6 L766.4 294.3 Q765.1 296.3 764.9 299" fill="none" stroke="#141414" stroke-width="1.60" />
<path d="M781.1 287.9 L774.5 283.2 M774.6 296.2 L767.7 292.6" fill="none" stroke="#141414" stroke-width="1.40" />
<path d="M773.1 343.5 L742.7 343.5 A4.5 4.5 0 0 0 742.7 352.5 L750.9 352.5 L750.9 381.6 L742.7 381.6 A4.5 4.5 0 0 0 742.7 390.6 L773.1 390.6" fill="none" stroke="#141414" stroke-width="1.60" />
<path d="M742.90 352.50 L742.90 381.60" fill="none" stroke="#141414" stroke-width="1.50" />
<path d="M771.90 440.70 L734.40 440.70" fill="none" stroke="#141414" stroke-width="1.20" />
<path d="M766.6 442.5 L731.6 442.5 L717.3 418.2 M734.6 441 L719.2 416 L656.5 416" fill="none" stroke="#141414" stroke-width="1.60" />
<path d="M766.6 442.5 L766.6 457.2 L711.4 457.2" fill="none" stroke="#141414" stroke-width="1.60" />
<path d="M763.5 442.5 L763.5 457.2 M753.1 442.5 L753.1 457.2 M746.0 442.5 L746.0 457.2" fill="none" stroke="#141414" stroke-width="1.40" />
<circle cx="719.4" cy="435" r="6.1" fill="none" stroke="#141414" stroke-width="1.5"/>
<path d="M720.8 435 L718.0 435 M719.4 433.6 L719.4 436.4" fill="none" stroke="#141414" stroke-width="1.20" />
<path d="M656.60 270.60 L656.60 299.10" fill="none" stroke="#1c1c1c" stroke-width="1.00" />
<path d="M656.9 299.1 L656.9 331.5 C656.9 338 660.5 338.6 663.5 336.9 L670 333 C674 330.6 678.5 332 678.5 337 L678.5 381 C678.5 386.3 674 387.6 670 385.2 L663.5 381.3 C660.5 379.6 656.9 380 656.9 386.5 L656.9 416" fill="none" stroke="#141414" stroke-width="1.60" />
<rect x="661.4" y="345.4" width="12.8" height="26.9" fill="none" stroke="#141414" stroke-width="1.5"/>
<path d="M656.2 335 L656.2 345.4 M656.2 349 L656.2 353.6 M656.2 357.7 L656.2 378" fill="none" stroke="#1c1c1c" stroke-width="1.00" />
<path d="M601.4 457.2 L601.4 423.8 L711.5 423.8 L711.5 457.2" fill="none" stroke="#141414" stroke-width="1.60" />
<path d="M601.40 439.80 L711.50 439.80" fill="none" stroke="#141414" stroke-width="1.60" />
<path d="M601.40 447.30 L711.50 447.30" fill="none" stroke="#141414" stroke-width="1.60" />
<path d="M603 447.3 L603 451.5 Q603 457 608.5 457 M709.9 447.3 L709.9 451.5 Q709.9 457 704.4 457" fill="none" stroke="#141414" stroke-width="1.40" />
<path d="M601.40 457.00 L711.50 457.00" fill="none" stroke="#141414" stroke-width="1.80" />
<rect x="611.25" y="433.1" width="8.2" height="23.8" fill="#fff" stroke="#141414" stroke-width="1.5"/>
<path d="M611.25 443.20 L619.45 443.20" fill="none" stroke="#141414" stroke-width="1.40" />
<rect x="631.80" y="433.1" width="8.2" height="23.8" fill="#fff" stroke="#141414" stroke-width="1.5"/>
<path d="M631.80 443.20 L640.00 443.20" fill="none" stroke="#141414" stroke-width="1.40" />
<rect x="652.35" y="433.1" width="8.2" height="23.8" fill="#fff" stroke="#141414" stroke-width="1.5"/>
<path d="M652.35 443.20 L660.55 443.20" fill="none" stroke="#141414" stroke-width="1.40" />
<rect x="672.90" y="433.1" width="8.2" height="23.8" fill="#fff" stroke="#141414" stroke-width="1.5"/>
<path d="M672.90 443.20 L681.10 443.20" fill="none" stroke="#141414" stroke-width="1.40" />
<rect x="693.45" y="433.1" width="8.2" height="23.8" fill="#fff" stroke="#141414" stroke-width="1.5"/>
<path d="M693.45 443.20 L701.65 443.20" fill="none" stroke="#141414" stroke-width="1.40" />
<path d="M656.45 420.6 L656.45 431 M656.45 434.5 L656.45 438 M656.45 441.5 L656.45 464.4" fill="none" stroke="#1c1c1c" stroke-width="1.00" />
<path d="M655.25 433.1 L655.25 443.2 M657.65 446 L657.65 457" fill="none" stroke="#1c1c1c" stroke-width="1.00" />
<path d="M753.00 366.80 L800.00 366.80" fill="none" stroke="#1c1c1c" stroke-width="1.00" />
<path d="M719.40 435.00 L800.00 435.00" fill="none" stroke="#1c1c1c" stroke-width="1.00" />
<path d="M792.50 366.80 L792.50 435.00" fill="none" stroke="#1c1c1c" stroke-width="1.00" />
<path d="M792.50 366.80 L794.20 374.80 L790.80 374.80 Z" fill="#1c1c1c" stroke="none"/>
<path d="M792.50 435.00 L790.80 427.00 L794.20 427.00 Z" fill="#1c1c1c" stroke="none"/>
<path transform="translate(790.50 399.00) rotate(-90.0)" d="M-16.83 -8.96 L-16.83 -9.51 L-16.25 -10.60 L-15.67 -11.15 L-14.51 -11.70 L-12.19 -11.70 L-11.03 -11.15 L-10.45 -10.60 L-9.87 -9.51 L-9.87 -8.41 L-10.45 -7.32 L-11.61 -5.68 L-17.41 -0.20 L-9.29 -0.20 M-5.80 -1.30 L-6.39 -0.75 L-5.80 -0.20 L-5.22 -0.75 L-5.80 -1.30 M-0.58 -9.51 L0.58 -10.06 L2.32 -11.70 L2.32 -0.20 M16.25 -11.70 L10.45 -11.70 L9.87 -6.77 L10.45 -7.32 L12.19 -7.87 L13.93 -7.87 L15.67 -7.32 L16.83 -6.22 L17.41 -4.58 L17.41 -3.49 L16.83 -1.84 L15.67 -0.75 L13.93 -0.20 L12.19 -0.20 L10.45 -0.75 L9.87 -1.30 L9.29 -2.39" fill="none" stroke="#111" stroke-width="1.15" stroke-linecap="round" stroke-linejoin="round"/>
<path d="M551.00 481.30 L637.50 481.30" fill="none" stroke="#1c1c1c" stroke-width="1.00" />
<path d="M611.40 481.30 L603.40 483.00 L603.40 479.60 Z" fill="#1c1c1c" stroke="none"/>
<path d="M619.50 481.30 L627.50 479.60 L627.50 483.00 Z" fill="#1c1c1c" stroke="none"/>
<path d="M611.40 460.00 L611.40 486.30" fill="none" stroke="#1c1c1c" stroke-width="1.00" />
<path d="M619.50 460.00 L619.50 486.30" fill="none" stroke="#1c1c1c" stroke-width="1.00" />
<path d="M614.3 457 L614.3 446 L616.5 446 L616.5 457 M695.9 457 L695.9 446 L698.1 446 L698.1 457" fill="none" stroke="#1c1c1c" stroke-width="1.00" />
<path d="M615.40 446.00 L615.40 506.70" fill="none" stroke="#1c1c1c" stroke-width="1.00" />
<path d="M697.00 446.00 L697.00 506.70" fill="none" stroke="#1c1c1c" stroke-width="1.00" />
<path transform="translate(572.70 478.40) rotate(0.0)" d="M-13.93 -11.70 L-15.67 -11.15 L-16.83 -9.51 L-17.41 -6.77 L-17.41 -5.13 L-16.83 -2.39 L-15.67 -0.75 L-13.93 -0.20 L-12.77 -0.20 L-11.03 -0.75 L-9.87 -2.39 L-9.29 -5.13 L-9.29 -6.77 L-9.87 -9.51 L-11.03 -11.15 L-12.77 -11.70 L-13.93 -11.70 M-5.80 -1.30 L-6.39 -0.75 L-5.80 -0.20 L-5.22 -0.75 L-5.80 -1.30 M-1.74 -8.96 L-1.74 -9.51 L-1.16 -10.60 L-0.58 -11.15 L0.58 -11.70 L2.90 -11.70 L4.06 -11.15 L4.64 -10.60 L5.22 -9.51 L5.22 -8.41 L4.64 -7.32 L3.48 -5.68 L-2.32 -0.20 L5.80 -0.20 M16.25 -11.70 L10.45 -11.70 L9.87 -6.77 L10.45 -7.32 L12.19 -7.87 L13.93 -7.87 L15.67 -7.32 L16.83 -6.22 L17.41 -4.58 L17.41 -3.49 L16.83 -1.84 L15.67 -0.75 L13.93 -0.20 L12.19 -0.20 L10.45 -0.75 L9.87 -1.30 L9.29 -2.39" fill="none" stroke="#111" stroke-width="1.15" stroke-linecap="round" stroke-linejoin="round"/>
<path d="M615.40 501.20 L697.00 501.20" fill="none" stroke="#1c1c1c" stroke-width="1.00" />
<path d="M615.40 501.20 L623.40 499.50 L623.40 502.90 Z" fill="#1c1c1c" stroke="none"/>
<path d="M697.00 501.20 L689.00 502.90 L689.00 499.50 Z" fill="#1c1c1c" stroke="none"/>
<path transform="translate(655.80 498.00) rotate(0.0)" d="M-16.83 -8.96 L-16.83 -9.51 L-16.25 -10.60 L-15.67 -11.15 L-14.51 -11.70 L-12.19 -11.70 L-11.03 -11.15 L-10.45 -10.60 L-9.87 -9.51 L-9.87 -8.41 L-10.45 -7.32 L-11.61 -5.68 L-17.41 -0.20 L-9.29 -0.20 M-5.80 -1.30 L-6.39 -0.75 L-5.80 -0.20 L-5.22 -0.75 L-5.80 -1.30 M5.22 -10.06 L4.64 -11.15 L2.90 -11.70 L1.74 -11.70 L0.00 -11.15 L-1.16 -9.51 L-1.74 -6.77 L-1.74 -4.03 L-1.16 -1.84 L0.00 -0.75 L1.74 -0.20 L2.32 -0.20 L4.06 -0.75 L5.22 -1.84 L5.80 -3.49 L5.80 -4.03 L5.22 -5.68 L4.06 -6.77 L2.32 -7.32 L1.74 -7.32 L0.00 -6.77 L-1.16 -5.68 L-1.74 -4.03 M12.77 -11.70 L11.03 -11.15 L9.87 -9.51 L9.29 -6.77 L9.29 -5.13 L9.87 -2.39 L11.03 -0.75 L12.77 -0.20 L13.93 -0.20 L15.67 -0.75 L16.83 -2.39 L17.41 -5.13 L17.41 -6.77 L16.83 -9.51 L15.67 -11.15 L13.93 -11.70 L12.77 -11.70" fill="none" stroke="#111" stroke-width="1.15" stroke-linecap="round" stroke-linejoin="round"/>
<path d="M593.50 441.00 L593.50 531.00" fill="none" stroke="#1c1c1c" stroke-width="1.00" />
<path d="M719.40 441.00 L719.40 531.00" fill="none" stroke="#1c1c1c" stroke-width="1.00" />
<path d="M593.50 525.50 L719.40 525.50" fill="none" stroke="#1c1c1c" stroke-width="1.00" />
<path d="M593.50 525.50 L601.50 523.80 L601.50 527.20 Z" fill="#1c1c1c" stroke="none"/>
<path d="M719.40 525.50 L711.40 527.20 L711.40 523.80 Z" fill="#1c1c1c" stroke="none"/>
<path transform="translate(653.20 523.00) rotate(0.0)" d="M-11.61 -11.70 L-17.41 -4.03 L-8.71 -4.03 M-11.61 -11.70 L-11.61 -0.20 M-5.80 -1.30 L-6.39 -0.75 L-5.80 -0.20 L-5.22 -0.75 L-5.80 -1.30 M1.16 -11.70 L-0.58 -11.15 L-1.74 -9.51 L-2.32 -6.77 L-2.32 -5.13 L-1.74 -2.39 L-0.58 -0.75 L1.16 -0.20 L2.32 -0.20 L4.06 -0.75 L5.22 -2.39 L5.80 -5.13 L5.80 -6.77 L5.22 -9.51 L4.06 -11.15 L2.32 -11.70 L1.16 -11.70 M12.77 -11.70 L11.03 -11.15 L9.87 -9.51 L9.29 -6.77 L9.29 -5.13 L9.87 -2.39 L11.03 -0.75 L12.77 -0.20 L13.93 -0.20 L15.67 -0.75 L16.83 -2.39 L17.41 -5.13 L17.41 -6.77 L16.83 -9.51 L15.67 -11.15 L13.93 -11.70 L12.77 -11.70" fill="none" stroke="#111" stroke-width="1.15" stroke-linecap="round" stroke-linejoin="round"/>
<path d="M368.40 574.3 L381.90 574.3 L381.90 617.5 L368.40 617.5 Z" fill="#fff" stroke="none"/>
<use href="#hl7" clip-path="url(#c7)"/>
<path d="M368.40 574.3 L381.90 574.3 L381.90 617.5 L368.40 617.5 Z" fill="none" stroke="#141414" stroke-width="1.50" stroke-linejoin="round"/>
<path d="M388.85 574.3 L402.35 574.3 L402.35 617.5 L388.85 617.5 Z" fill="#fff" stroke="none"/>
<use href="#hl7" clip-path="url(#c8)"/>
<path d="M388.85 574.3 L402.35 574.3 L402.35 617.5 L388.85 617.5 Z" fill="none" stroke="#141414" stroke-width="1.50" stroke-linejoin="round"/>
<path d="M409.30 574.3 L422.80 574.3 L422.80 617.5 L409.30 617.5 Z" fill="#fff" stroke="none"/>
<use href="#hl7" clip-path="url(#c9)"/>
<path d="M409.30 574.3 L422.80 574.3 L422.80 617.5 L409.30 617.5 Z" fill="none" stroke="#141414" stroke-width="1.50" stroke-linejoin="round"/>
<path d="M429.75 574.3 L443.25 574.3 L443.25 617.5 L429.75 617.5 Z" fill="#fff" stroke="none"/>
<use href="#hl7" clip-path="url(#c10)"/>
<path d="M429.75 574.3 L443.25 574.3 L443.25 617.5 L429.75 617.5 Z" fill="none" stroke="#141414" stroke-width="1.50" stroke-linejoin="round"/>
<path d="M450.20 574.3 L463.70 574.3 L463.70 617.5 L450.20 617.5 Z" fill="#fff" stroke="none"/>
<use href="#hl7" clip-path="url(#c11)"/>
<path d="M450.20 574.3 L463.70 574.3 L463.70 617.5 L450.20 617.5 Z" fill="none" stroke="#141414" stroke-width="1.50" stroke-linejoin="round"/>
<circle cx="353.6" cy="612" r="10.9" fill="none" stroke="#141414" stroke-width="1.3"/>
<circle cx="479.4" cy="612" r="10.9" fill="none" stroke="#141414" stroke-width="1.3"/>
<use href="#hl7" clip-path="url(#c12)"/>
<path d="M307.80 669.8 A18 18 0 0 1 343.80 669.8 L343.80 690.5 A18 18 0 0 1 307.80 690.5 Z" fill="none" stroke="#141414" stroke-width="2.0"/>
<path d="M318.10 668.7 A7.7 7.7 0 0 1 333.50 668.7 L333.50 691.7 A7.7 7.7 0 0 1 318.10 691.7 Z" fill="none" stroke="#141414" stroke-width="1.6"/>
<use href="#hl7" clip-path="url(#c13)"/>
<path d="M488.60 669.8 A18 18 0 0 1 524.60 669.8 L524.60 690.5 A18 18 0 0 1 488.60 690.5 Z" fill="none" stroke="#141414" stroke-width="2.0"/>
<path d="M498.90 668.7 A7.7 7.7 0 0 1 514.30 668.7 L514.30 691.7 A7.7 7.7 0 0 1 498.90 691.7 Z" fill="none" stroke="#141414" stroke-width="1.6"/>
<path d="M325.60 503.80 L325.60 666.00" fill="none" stroke="#1c1c1c" stroke-width="1.00" />
<path d="M506.30 503.80 L506.30 666.00" fill="none" stroke="#1c1c1c" stroke-width="1.00" />
<path d="M325.60 509.40 L506.30 509.40" fill="none" stroke="#1c1c1c" stroke-width="1.00" />
<path d="M325.60 509.40 L333.60 507.70 L333.60 511.10 Z" fill="#1c1c1c" stroke="none"/>
<path d="M506.30 509.40 L498.30 511.10 L498.30 507.70 Z" fill="#1c1c1c" stroke="none"/>
<path transform="translate(410.00 506.20) rotate(0.0)" d="M-10.45 -11.70 L-16.25 -11.70 L-16.83 -6.77 L-16.25 -7.32 L-14.51 -7.87 L-12.77 -7.87 L-11.03 -7.32 L-9.87 -6.22 L-9.29 -4.58 L-9.29 -3.49 L-9.87 -1.84 L-11.03 -0.75 L-12.77 -0.20 L-14.51 -0.20 L-16.25 -0.75 L-16.83 -1.30 L-17.41 -2.39 M-5.80 -1.30 L-6.39 -0.75 L-5.80 -0.20 L-5.22 -0.75 L-5.80 -1.30 M5.80 -11.70 L0.00 -0.20 M-2.32 -11.70 L5.80 -11.70 M16.25 -11.70 L10.45 -11.70 L9.87 -6.77 L10.45 -7.32 L12.19 -7.87 L13.93 -7.87 L15.67 -7.32 L16.83 -6.22 L17.41 -4.58 L17.41 -3.49 L16.83 -1.84 L15.67 -0.75 L13.93 -0.20 L12.19 -0.20 L10.45 -0.75 L9.87 -1.30 L9.29 -2.39" fill="none" stroke="#111" stroke-width="1.15" stroke-linecap="round" stroke-linejoin="round"/>
<path d="M375.60 527.00 L375.60 571.30" fill="none" stroke="#1c1c1c" stroke-width="1.00" />
<path d="M457.00 527.50 L457.00 570.00" fill="none" stroke="#1c1c1c" stroke-width="1.00" />
<path d="M375.60 533.10 L457.00 533.10" fill="none" stroke="#1c1c1c" stroke-width="1.00" />
<path d="M375.60 533.10 L383.60 531.40 L383.60 534.80 Z" fill="#1c1c1c" stroke="none"/>
<path d="M457.00 533.10 L449.00 534.80 L449.00 531.40 Z" fill="#1c1c1c" stroke="none"/>
<path transform="translate(410.30 530.50) rotate(0.0)" d="M-16.83 -8.96 L-16.83 -9.51 L-16.25 -10.60 L-15.67 -11.15 L-14.51 -11.70 L-12.19 -11.70 L-11.03 -11.15 L-10.45 -10.60 L-9.87 -9.51 L-9.87 -8.41 L-10.45 -7.32 L-11.61 -5.68 L-17.41 -0.20 L-9.29 -0.20 M-5.80 -1.30 L-6.39 -0.75 L-5.80 -0.20 L-5.22 -0.75 L-5.80 -1.30 M5.22 -10.06 L4.64 -11.15 L2.90 -11.70 L1.74 -11.70 L0.00 -11.15 L-1.16 -9.51 L-1.74 -6.77 L-1.74 -4.03 L-1.16 -1.84 L0.00 -0.75 L1.74 -0.20 L2.32 -0.20 L4.06 -0.75 L5.22 -1.84 L5.80 -3.49 L5.80 -4.03 L5.22 -5.68 L4.06 -6.77 L2.32 -7.32 L1.74 -7.32 L0.00 -6.77 L-1.16 -5.68 L-1.74 -4.03 M12.77 -11.70 L11.03 -11.15 L9.87 -9.51 L9.29 -6.77 L9.29 -5.13 L9.87 -2.39 L11.03 -0.75 L12.77 -0.20 L13.93 -0.20 L15.67 -0.75 L16.83 -2.39 L17.41 -5.13 L17.41 -6.77 L16.83 -9.51 L15.67 -11.15 L13.93 -11.70 L12.77 -11.70" fill="none" stroke="#111" stroke-width="1.15" stroke-linecap="round" stroke-linejoin="round"/>
<path d="M356.90 554.40 L455.00 554.40" fill="none" stroke="#1c1c1c" stroke-width="1.00" />
<path d="M375.60 554.40 L367.60 556.10 L367.60 552.70 Z" fill="#1c1c1c" stroke="none"/>
<path d="M396.20 554.40 L404.20 552.70 L404.20 556.10 Z" fill="#1c1c1c" stroke="none"/>
<path d="M396.20 548.00 L396.20 571.30" fill="none" stroke="#1c1c1c" stroke-width="1.00" />
<path transform="translate(435.00 551.20) rotate(0.0)" d="M-13.93 -11.70 L-15.67 -11.15 L-16.83 -9.51 L-17.41 -6.77 L-17.41 -5.13 L-16.83 -2.39 L-15.67 -0.75 L-13.93 -0.20 L-12.77 -0.20 L-11.03 -0.75 L-9.87 -2.39 L-9.29 -5.13 L-9.29 -6.77 L-9.87 -9.51 L-11.03 -11.15 L-12.77 -11.70 L-13.93 -11.70 M-5.80 -1.30 L-6.39 -0.75 L-5.80 -0.20 L-5.22 -0.75 L-5.80 -1.30 M5.22 -10.06 L4.64 -11.15 L2.90 -11.70 L1.74 -11.70 L0.00 -11.15 L-1.16 -9.51 L-1.74 -6.77 L-1.74 -4.03 L-1.16 -1.84 L0.00 -0.75 L1.74 -0.20 L2.32 -0.20 L4.06 -0.75 L5.22 -1.84 L5.80 -3.49 L5.80 -4.03 L5.22 -5.68 L4.06 -6.77 L2.32 -7.32 L1.74 -7.32 L0.00 -6.77 L-1.16 -5.68 L-1.74 -4.03 M16.25 -11.70 L10.45 -11.70 L9.87 -6.77 L10.45 -7.32 L12.19 -7.87 L13.93 -7.87 L15.67 -7.32 L16.83 -6.22 L17.41 -4.58 L17.41 -3.49 L16.83 -1.84 L15.67 -0.75 L13.93 -0.20 L12.19 -0.20 L10.45 -0.75 L9.87 -1.30 L9.29 -2.39" fill="none" stroke="#111" stroke-width="1.15" stroke-linecap="round" stroke-linejoin="round"/>
<path d="M272.50 566.30 L400.00 566.30" fill="none" stroke="#1c1c1c" stroke-width="1.00" />
<path d="M369.00 566.30 L361.00 568.00 L361.00 564.60 Z" fill="#1c1c1c" stroke="none"/>
<path d="M381.60 566.30 L389.60 564.60 L389.60 568.00 Z" fill="#1c1c1c" stroke="none"/>
<path d="M369.00 560.00 L369.00 571.30" fill="none" stroke="#1c1c1c" stroke-width="1.00" />
<path d="M381.60 560.00 L381.60 571.30" fill="none" stroke="#1c1c1c" stroke-width="1.00" />
<path transform="translate(293.40 563.00) rotate(0.0)" d="M-13.93 -11.70 L-15.67 -11.15 L-16.83 -9.51 L-17.41 -6.77 L-17.41 -5.13 L-16.83 -2.39 L-15.67 -0.75 L-13.93 -0.20 L-12.77 -0.20 L-11.03 -0.75 L-9.87 -2.39 L-9.29 -5.13 L-9.29 -6.77 L-9.87 -9.51 L-11.03 -11.15 L-12.77 -11.70 L-13.93 -11.70 M-5.80 -1.30 L-6.39 -0.75 L-5.80 -0.20 L-5.22 -0.75 L-5.80 -1.30 M3.48 -11.70 L-2.32 -4.03 L6.39 -4.03 M3.48 -11.70 L3.48 -0.20 M12.77 -11.70 L11.03 -11.15 L9.87 -9.51 L9.29 -6.77 L9.29 -5.13 L9.87 -2.39 L11.03 -0.75 L12.77 -0.20 L13.93 -0.20 L15.67 -0.75 L16.83 -2.39 L17.41 -5.13 L17.41 -6.77 L16.83 -9.51 L15.67 -11.15 L13.93 -11.70 L12.77 -11.70" fill="none" stroke="#111" stroke-width="1.15" stroke-linecap="round" stroke-linejoin="round"/>
<path d="M258.00 603.90 L351.00 603.90" fill="none" stroke="#1c1c1c" stroke-width="1.00" />
<path d="M317.80 603.90 L309.80 605.60 L309.80 602.20 Z" fill="#1c1c1c" stroke="none"/>
<path d="M334.00 603.90 L342.00 602.20 L342.00 605.60 Z" fill="#1c1c1c" stroke="none"/>
<path d="M317.80 597.80 L317.80 661.00" fill="none" stroke="#1c1c1c" stroke-width="1.00" />
<path d="M334.00 597.80 L334.00 661.00" fill="none" stroke="#1c1c1c" stroke-width="1.00" />
<path transform="translate(279.20 600.60) rotate(0.0)" d="M-13.93 -11.70 L-15.67 -11.15 L-16.83 -9.51 L-17.41 -6.77 L-17.41 -5.13 L-16.83 -2.39 L-15.67 -0.75 L-13.93 -0.20 L-12.77 -0.20 L-11.03 -0.75 L-9.87 -2.39 L-9.29 -5.13 L-9.29 -6.77 L-9.87 -9.51 L-11.03 -11.15 L-12.77 -11.70 L-13.93 -11.70 M-5.80 -1.30 L-6.39 -0.75 L-5.80 -0.20 L-5.22 -0.75 L-5.80 -1.30 M4.64 -11.70 L-1.16 -11.70 L-1.74 -6.77 L-1.16 -7.32 L0.58 -7.87 L2.32 -7.87 L4.06 -7.32 L5.22 -6.22 L5.80 -4.58 L5.80 -3.49 L5.22 -1.84 L4.06 -0.75 L2.32 -0.20 L0.58 -0.20 L-1.16 -0.75 L-1.74 -1.30 L-2.32 -2.39 M12.77 -11.70 L11.03 -11.15 L9.87 -9.51 L9.29 -6.77 L9.29 -5.13 L9.87 -2.39 L11.03 -0.75 L12.77 -0.20 L13.93 -0.20 L15.67 -0.75 L16.83 -2.39 L17.41 -5.13 L17.41 -6.77 L16.83 -9.51 L15.67 -11.15 L13.93 -11.70 L12.77 -11.70" fill="none" stroke="#111" stroke-width="1.15" stroke-linecap="round" stroke-linejoin="round"/>
<path d="M280.40 612.00 L350.00 612.00" fill="none" stroke="#1c1c1c" stroke-width="1.00" />
<path d="M280.40 680.20 L309.70 680.20" fill="none" stroke="#1c1c1c" stroke-width="1.00" />
<path d="M286.00 612.00 L286.00 680.20" fill="none" stroke="#1c1c1c" stroke-width="1.00" />
<path d="M286.00 612.00 L287.70 620.00 L284.30 620.00 Z" fill="#1c1c1c" stroke="none"/>
<path d="M286.00 680.20 L284.30 672.20 L287.70 672.20 Z" fill="#1c1c1c" stroke="none"/>
<path transform="translate(282.80 646.30) rotate(-90.0)" d="M-16.83 -8.96 L-16.83 -9.51 L-16.25 -10.60 L-15.67 -11.15 L-14.51 -11.70 L-12.19 -11.70 L-11.03 -11.15 L-10.45 -10.60 L-9.87 -9.51 L-9.87 -8.41 L-10.45 -7.32 L-11.61 -5.68 L-17.41 -0.20 L-9.29 -0.20 M-5.80 -1.30 L-6.39 -0.75 L-5.80 -0.20 L-5.22 -0.75 L-5.80 -1.30 M-0.58 -9.51 L0.58 -10.06 L2.32 -11.70 L2.32 -0.20 M16.25 -11.70 L10.45 -11.70 L9.87 -6.77 L10.45 -7.32 L12.19 -7.87 L13.93 -7.87 L15.67 -7.32 L16.83 -6.22 L17.41 -4.58 L17.41 -3.49 L16.83 -1.84 L15.67 -0.75 L13.93 -0.20 L12.19 -0.20 L10.45 -0.75 L9.87 -1.30 L9.29 -2.39" fill="none" stroke="#111" stroke-width="1.15" stroke-linecap="round" stroke-linejoin="round"/>
<path d="M353.60 616.00 L353.60 648.80" fill="none" stroke="#1c1c1c" stroke-width="1.00" />
<path d="M479.40 616.00 L479.40 648.80" fill="none" stroke="#1c1c1c" stroke-width="1.00" />
<path d="M353.60 643.70 L479.40 643.70" fill="none" stroke="#1c1c1c" stroke-width="1.00" />
<path d="M353.60 643.70 L361.60 642.00 L361.60 645.40 Z" fill="#1c1c1c" stroke="none"/>
<path d="M479.40 643.70 L471.40 645.40 L471.40 642.00 Z" fill="#1c1c1c" stroke="none"/>
<path transform="translate(416.30 640.50) rotate(0.0)" d="M-11.61 -11.70 L-17.41 -4.03 L-8.71 -4.03 M-11.61 -11.70 L-11.61 -0.20 M-5.80 -1.30 L-6.39 -0.75 L-5.80 -0.20 L-5.22 -0.75 L-5.80 -1.30 M1.16 -11.70 L-0.58 -11.15 L-1.74 -9.51 L-2.32 -6.77 L-2.32 -5.13 L-1.74 -2.39 L-0.58 -0.75 L1.16 -0.20 L2.32 -0.20 L4.06 -0.75 L5.22 -2.39 L5.80 -5.13 L5.80 -6.77 L5.22 -9.51 L4.06 -11.15 L2.32 -11.70 L1.16 -11.70 M12.77 -11.70 L11.03 -11.15 L9.87 -9.51 L9.29 -6.77 L9.29 -5.13 L9.87 -2.39 L11.03 -0.75 L12.77 -0.20 L13.93 -0.20 L15.67 -0.75 L16.83 -2.39 L17.41 -5.13 L17.41 -6.77 L16.83 -9.51 L15.67 -11.15 L13.93 -11.70 L12.77 -11.70" fill="none" stroke="#111" stroke-width="1.15" stroke-linecap="round" stroke-linejoin="round"/>
<path d="M340.00 661.30 L381.30 661.30" fill="none" stroke="#1c1c1c" stroke-width="1.00" />
<path d="M340.00 698.90 L381.30 698.90" fill="none" stroke="#1c1c1c" stroke-width="1.00" />
<path d="M375.50 661.30 L375.50 698.90" fill="none" stroke="#1c1c1c" stroke-width="1.00" />
<path d="M375.50 661.30 L377.20 669.30 L373.80 669.30 Z" fill="#1c1c1c" stroke="none"/>
<path d="M375.50 698.90 L373.80 690.90 L377.20 690.90 Z" fill="#1c1c1c" stroke="none"/>
<path transform="translate(373.00 680.00) rotate(-90.0)" d="M-16.54 -9.51 L-15.38 -10.06 L-13.64 -11.70 L-13.64 -0.20 M-6.68 -1.30 L-7.26 -0.75 L-6.68 -0.20 L-6.10 -0.75 L-6.68 -1.30 M-2.61 -8.96 L-2.61 -9.51 L-2.03 -10.60 L-1.45 -11.15 L-0.29 -11.70 L2.03 -11.70 L3.19 -11.15 L3.77 -10.60 L4.35 -9.51 L4.35 -8.41 L3.77 -7.32 L2.61 -5.68 L-3.19 -0.20 L4.93 -0.20 M11.90 -11.70 L10.16 -11.15 L9.00 -9.51 L8.42 -6.77 L8.42 -5.13 L9.00 -2.39 L10.16 -0.75 L11.90 -0.20 L13.06 -0.20 L14.80 -0.75 L15.96 -2.39 L16.54 -5.13 L16.54 -6.77 L15.96 -9.51 L14.80 -11.15 L13.06 -11.70 L11.90 -11.70" fill="none" stroke="#111" stroke-width="1.15" stroke-linecap="round" stroke-linejoin="round"/>
<path d="M466.30 574.50 L550.00 574.50" fill="none" stroke="#1c1c1c" stroke-width="1.00" />
<path d="M467.00 616.80 L501.30 616.80" fill="none" stroke="#1c1c1c" stroke-width="1.00" />
<path d="M494.50 516.30 L494.50 634.50" fill="none" stroke="#1c1c1c" stroke-width="1.00" />
<path d="M494.50 574.50 L492.80 566.50 L496.20 566.50 Z" fill="#1c1c1c" stroke="none"/>
<path d="M494.50 616.80 L496.20 624.80 L492.80 624.80 Z" fill="#1c1c1c" stroke="none"/>
<path transform="translate(492.50 536.60) rotate(-90.0)" d="M-16.54 -9.51 L-15.38 -10.06 L-13.64 -11.70 L-13.64 -0.20 M-6.68 -1.30 L-7.26 -0.75 L-6.68 -0.20 L-6.10 -0.75 L-6.68 -1.30 M-2.03 -11.70 L4.35 -11.70 L0.87 -7.32 L2.61 -7.32 L3.77 -6.77 L4.35 -6.22 L4.93 -4.58 L4.93 -3.49 L4.35 -1.84 L3.19 -0.75 L1.45 -0.20 L-0.29 -0.20 L-2.03 -0.75 L-2.61 -1.30 L-3.19 -2.39 M15.38 -11.70 L9.58 -11.70 L9.00 -6.77 L9.58 -7.32 L11.32 -7.87 L13.06 -7.87 L14.80 -7.32 L15.96 -6.22 L16.54 -4.58 L16.54 -3.49 L15.96 -1.84 L14.80 -0.75 L13.06 -0.20 L11.32 -0.20 L9.58 -0.75 L9.00 -1.30 L8.42 -2.39" fill="none" stroke="#111" stroke-width="1.15" stroke-linecap="round" stroke-linejoin="round"/>
<path d="M517.50 679.50 L549.50 679.50" fill="none" stroke="#1c1c1c" stroke-width="1.00" />
<path d="M543.80 574.50 L543.80 679.50" fill="none" stroke="#1c1c1c" stroke-width="1.00" />
<path d="M543.80 574.50 L545.50 582.50 L542.10 582.50 Z" fill="#1c1c1c" stroke="none"/>
<path d="M543.80 679.50 L542.10 671.50 L545.50 671.50 Z" fill="#1c1c1c" stroke="none"/>
<path transform="translate(541.30 616.60) rotate(-90.0)" d="M-16.25 -11.70 L-9.87 -11.70 L-13.35 -7.32 L-11.61 -7.32 L-10.45 -6.77 L-9.87 -6.22 L-9.29 -4.58 L-9.29 -3.49 L-9.87 -1.84 L-11.03 -0.75 L-12.77 -0.20 L-14.51 -0.20 L-16.25 -0.75 L-16.83 -1.30 L-17.41 -2.39 M-5.80 -1.30 L-6.39 -0.75 L-5.80 -0.20 L-5.22 -0.75 L-5.80 -1.30 M-1.16 -11.70 L5.22 -11.70 L1.74 -7.32 L3.48 -7.32 L4.64 -6.77 L5.22 -6.22 L5.80 -4.58 L5.80 -3.49 L5.22 -1.84 L4.06 -0.75 L2.32 -0.20 L0.58 -0.20 L-1.16 -0.75 L-1.74 -1.30 L-2.32 -2.39 M16.25 -11.70 L10.45 -11.70 L9.87 -6.77 L10.45 -7.32 L12.19 -7.87 L13.93 -7.87 L15.67 -7.32 L16.83 -6.22 L17.41 -4.58 L17.41 -3.49 L16.83 -1.84 L15.67 -0.75 L13.93 -0.20 L12.19 -0.20 L10.45 -0.75 L9.87 -1.30 L9.29 -2.39" fill="none" stroke="#111" stroke-width="1.15" stroke-linecap="round" stroke-linejoin="round"/>
<path d="M471.30 720.00 L582.50 720.00" fill="none" stroke="#1c1c1c" stroke-width="1.00" />
<path d="M488.60 720.00 L480.60 721.70 L480.60 718.30 Z" fill="#1c1c1c" stroke="none"/>
<path d="M524.60 720.00 L532.60 718.30 L532.60 721.70 Z" fill="#1c1c1c" stroke="none"/>
<path d="M488.60 680.00 L488.60 726.00" fill="none" stroke="#1c1c1c" stroke-width="1.00" />
<path d="M524.60 680.00 L524.60 726.00" fill="none" stroke="#1c1c1c" stroke-width="1.00" />
<path transform="translate(545.00 717.00) rotate(0.0)" d="M0.00 -9.51 L1.16 -10.06 L2.90 -11.70 L2.90 -0.20 M9.87 -1.30 L9.29 -0.75 L9.87 -0.20 L10.45 -0.75 L9.87 -1.30 M15.09 -9.51 L16.25 -10.06 L17.99 -11.70 L17.99 -0.20 M28.44 -11.70 L26.70 -11.15 L25.54 -9.51 L24.96 -6.77 L24.96 -5.13 L25.54 -2.39 L26.70 -0.75 L28.44 -0.20 L29.60 -0.20 L31.35 -0.75 L32.51 -2.39 L33.09 -5.13 L33.09 -6.77 L32.51 -9.51 L31.35 -11.15 L29.60 -11.70 L28.44 -11.70" fill="none" stroke="#111" stroke-width="1.15" stroke-linecap="round" stroke-linejoin="round"/>
</svg>
</body></html>
